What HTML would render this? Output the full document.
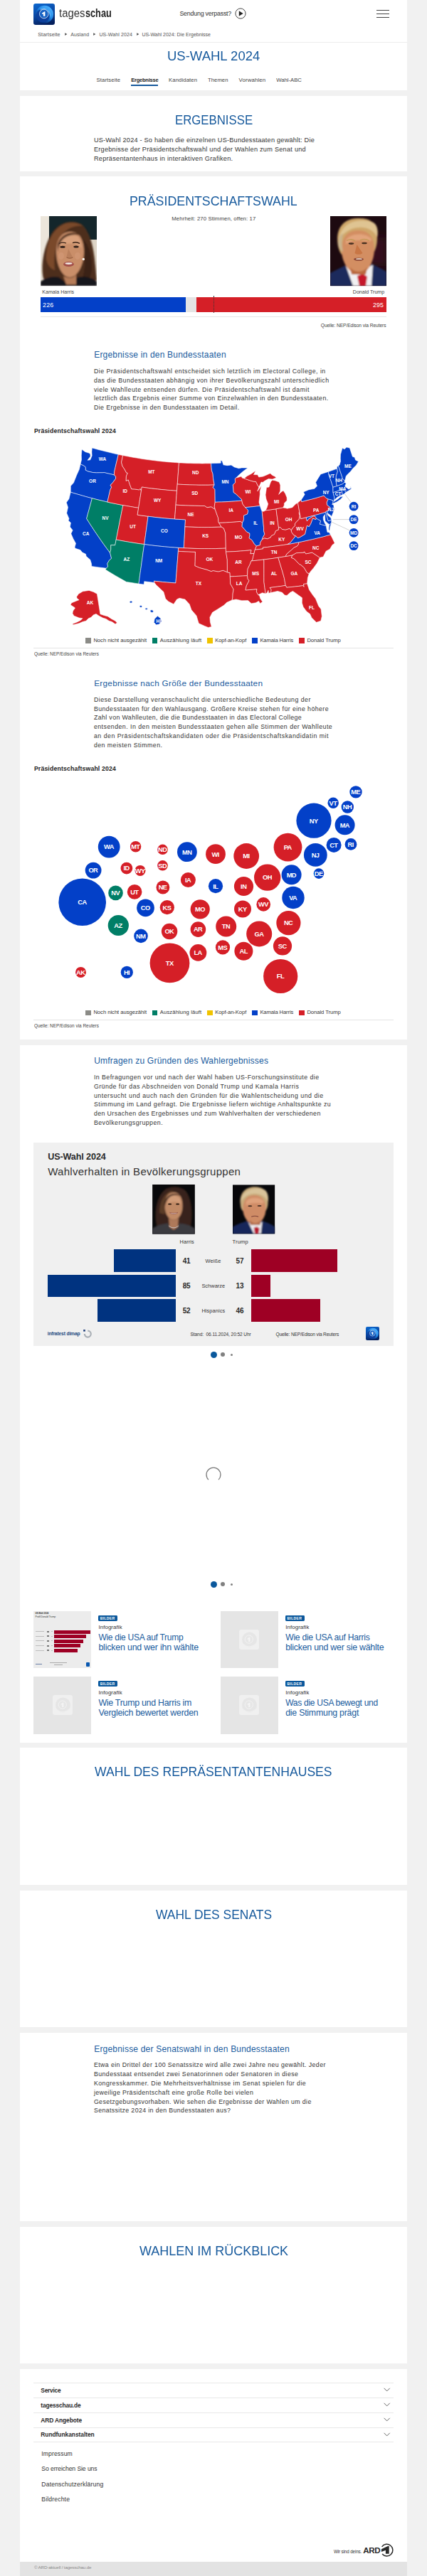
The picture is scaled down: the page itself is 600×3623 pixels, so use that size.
<!DOCTYPE html><html lang="de"><head><meta charset="utf-8"><title>US-Wahl 2024: Die Ergebnisse</title><style>
html,body{margin:0;padding:0}body{width:600px;height:3623px;position:relative;background:#f1f1f1;font-family:"Liberation Sans",sans-serif;overflow:hidden}
.b{position:absolute;background:#fff;left:28px;width:544px}
.t{position:absolute;white-space:pre;line-height:1;margin:0;padding:0}
.a{position:absolute}
svg{position:absolute;left:0;overflow:visible}

</style></head><body>
<div class="b" style="top:0px;height:127px"></div>
<div class="b" style="top:135px;height:106px"></div>
<div class="b" style="top:248px;height:1214px"></div>
<div class="b" style="top:1470px;height:981px"></div>
<div class="b" style="top:2458px;height:193px"></div>
<div class="b" style="top:2659px;height:192px"></div>
<div class="b" style="top:2859px;height:265px"></div>
<div class="b" style="top:3132px;height:192px"></div>
<div class="b" style="top:3332px;height:271px"></div>
<div class="a" style="left:28px;top:3603px;width:544px;height:20px;background:#e3e3e3"></div>
<svg style="top:4.8px;left:47.3px" width="30" height="30" viewBox="0 0 30 30"><defs><linearGradient id="lga" x1="0.2" y1="0" x2="0.5" y2="1"><stop offset="0" stop-color="#0c66cc"/><stop offset="0.5" stop-color="#0a48a4"/><stop offset="1" stop-color="#041f5c"/></linearGradient><linearGradient id="gga" x1="0.85" y1="0.1" x2="0.2" y2="0.9"><stop offset="0" stop-color="#4db4ff"/><stop offset="0.45" stop-color="#1f86e6"/><stop offset="1" stop-color="#0a3f98" stop-opacity="0.2"/></linearGradient><filter id="iba"><feGaussianBlur stdDeviation="0.5"/></filter></defs><rect width="30" height="30" rx="3.2" fill="url(#lga)"/><g filter="url(#iba)"><circle cx="15.6" cy="15.2" r="12.4" fill="url(#gga)"/><circle cx="13.2" cy="17" r="9.6" fill="#0a3f9c" opacity="0.9"/><path d="M9 8 C12 5 17 5.5 19 7.5 C16 7.5 13 9 11 11Z M20 9 C24 11 25.5 16 24 20 C23.5 16 22.5 13 20 11Z" fill="#7cc8ff" opacity="0.55"/></g><circle cx="14.75" cy="14.5" r="6.3" fill="#1662c4" stroke="#fff" stroke-width="0.7"/><path d="M12 13.4 L15.4 11.3 L16.4 11.3 L16.4 17.8 L13.9 17.8 L13.9 14.3 L12 15Z" fill="#fff"/></svg>
<svg style="top:11.3px;left:330.4px" width="16" height="16" viewBox="0 0 16 16"><circle cx="8" cy="8" r="7.1" fill="none" stroke="#333" stroke-width="0.9"/><path d="M5.8 4.2 L11.6 8 L5.8 11.8Z" fill="#222"/></svg>
<div class="a" style="left:529px;top:13.5px;width:17.6px;height:1.4px;background:#444"></div><div class="a" style="left:529px;top:18.7px;width:17.6px;height:1.4px;background:#444"></div><div class="a" style="left:529px;top:24px;width:17.6px;height:1.4px;background:#444"></div>
<svg style="top:46.3px;left:90.6px" width="3.6" height="4.2" viewBox="0 0 3.6 4.2"><path d="M0.2 0.2 L3.4 2.1 L0.2 4Z" fill="#555"/></svg>
<svg style="top:46.3px;left:130.7px" width="3.6" height="4.2" viewBox="0 0 3.6 4.2"><path d="M0.2 0.2 L3.4 2.1 L0.2 4Z" fill="#555"/></svg>
<svg style="top:46.3px;left:191.8px" width="3.6" height="4.2" viewBox="0 0 3.6 4.2"><path d="M0.2 0.2 L3.4 2.1 L0.2 4Z" fill="#555"/></svg>
<div class="a" style="left:28px;top:58.9px;width:544px;height:1px;background:#ececec"></div>
<div class="a" style="left:184.2px;top:119px;width:38.2px;height:1.5px;background:#16599c"></div>
<svg style="top:304px;left:57px" width="79" height="98.3" viewBox="0 0 79 98.3"><defs><filter id="bl1" x="-20%" y="-20%" width="140%" height="140%"><feGaussianBlur stdDeviation="1.1"/></filter><filter id="bl0" x="-20%" y="-20%" width="140%" height="140%"><feGaussianBlur stdDeviation="0.5"/></filter><filter id="bl2" x="-50%" y="-50%" width="200%" height="200%"><feGaussianBlur stdDeviation="6"/></filter><clipPath id="cp1"><rect width="79" height="98.3"/></clipPath></defs><g clip-path="url(#cp1)"><rect width="79" height="98.3" fill="#e7e0d4"/><rect x="12" y="0" width="67" height="33" fill="#14262b"/><rect x="0" y="0" width="11.5" height="98.3" fill="#ece6db"/><rect x="68" y="33" width="11" height="45" fill="#ddd4c6"/>
<g filter="url(#bl1)"><path d="M4 88 C0 70 4 42 17 22 C27 8 44 4 57 11 C69 20 75 44 77 70 L79 90 L60 96 L20 96Z" fill="#4d2e1d"/><path d="M8 60 C8 36 18 16 36 10 C46 8 54 10 60 14 C48 12 34 18 26 32 C20 44 18 60 20 76 C14 74 9 68 8 60Z" fill="#7a4a2c"/><path d="M56 30 C66 36 72 52 72 70 C72 80 70 86 66 90 L58 90 C64 74 64 50 56 30Z" fill="#3a2115"/><path d="M0 98.3 L0 92 C8 86 18 84 26 86 L38 96 L52 86 C62 84 72 86 79 92 L79 98.3Z" fill="#14141a"/><path d="M22 50 C22 32 30 22 42 22 C54 22 61 32 61 50 C61 68 52 86 41 86 C30 86 22 68 22 50Z" fill="#c98e69"/><path d="M28 34 C32 26 44 24 52 28 C56 32 58 40 58 46 C52 38 40 36 28 42Z" fill="#d9a17c"/><path d="M32 84 L36 96 L50 96 L50 82 C46 88 38 88 32 84Z" fill="#b67c58"/><path d="M24 40 C28 26 44 18 58 28 C50 24 36 26 30 34 C27 38 25 44 24 50Z" fill="#4d2e1d"/></g>
<g filter="url(#bl0)"><path d="M26 38.5 C29 36.8 33 36.8 36 38" stroke="#3a2216" stroke-width="1.3" fill="none"/><path d="M45 37.6 C48 36.4 52 36.6 55 38.4" stroke="#3a2216" stroke-width="1.3" fill="none"/><ellipse cx="31" cy="43.2" rx="3.6" ry="1.5" fill="#33201a"/><ellipse cx="50" cy="43" rx="3.6" ry="1.5" fill="#33201a"/><path d="M39 46 L36.5 57.5 C39 59.5 43 59.5 45 57.5Z" fill="#b97f5b"/><path d="M36.5 58 C39 59.6 43 59.6 45.4 58" stroke="#8d5538" stroke-width="1" fill="none"/><ellipse cx="39.5" cy="67.5" rx="7.4" ry="3.6" fill="#a4514c"/><ellipse cx="39.5" cy="66.6" rx="5" ry="1.3" fill="#f3e9e4"/><circle cx="60.3" cy="60.5" r="1.7" fill="#f6f2ec"/><ellipse cx="29" cy="56" rx="4" ry="5" fill="#d49a78" opacity="0.6"/><ellipse cx="52" cy="56" rx="4" ry="5" fill="#d49a78" opacity="0.6"/></g></g></svg>
<svg style="top:304px;left:463.8px" width="79" height="98.3" viewBox="0 0 79 98.3"><g clip-path="url(#cp1)"><rect width="79" height="98.3" fill="#1d0a10"/><rect x="50" y="30" width="29" height="40" fill="#35101a" filter="url(#bl2)"/>
<g filter="url(#bl1)"><path d="M0 98.3 L0 80 C8 76 16 72 24 68 L56 66 C64 70 72 74 79 78 L79 98.3Z" fill="#1d2c5c"/><path d="M22 70 L32 98.3 L58 98.3 L60 68 C54 74 30 76 22 70Z" fill="#f1f0f2"/><path d="M38 84 L46 81 L52 85 L50 98.3 L41 98.3Z" fill="#c5132b"/><path d="M11 42 C7 20 16 4 38 3 C56 2 68 10 66 30 C66 40 64 46 62 50 L16 54 C13 50 12 46 11 42Z" fill="#cfa76a"/><path d="M16 48 C16 30 24 20 40 20 C54 20 62 30 62 46 C62 64 52 82 40 82 C28 82 16 66 16 48Z" fill="#d38e62"/><path d="M22 34 C26 24 50 22 58 32 C58 38 54 34 40 34 C32 34 26 36 22 40Z" fill="#e2a47c"/><path d="M12 34 C14 12 34 2 58 8 C66 10 68 20 66 30 C62 18 46 12 30 18 C20 22 14 30 12 34Z" fill="#dfc492"/><path d="M11 40 C11 32 14 26 18 24 C16 32 16 42 18 50 C14 48 12 44 11 40Z" fill="#c9b48e"/><path d="M28 72 C34 80 46 80 52 72 L50 82 L30 82Z" fill="#b9683c"/></g>
<g filter="url(#bl0)"><path d="M23 34.5 C27 32.5 32 32.8 35 34.8" stroke="#c79a5a" stroke-width="1.6" fill="none"/><path d="M42 34 C46 32 51 32.2 55 34.6" stroke="#c79a5a" stroke-width="1.6" fill="none"/><ellipse cx="29.5" cy="38.6" rx="3.8" ry="1.3" fill="#4a3024"/><ellipse cx="48" cy="38" rx="3.8" ry="1.3" fill="#4a3024"/><path d="M37.5 40 L34.5 52 C37 54.5 43 54.5 45.5 52Z" fill="#c87644"/><ellipse cx="40" cy="60.6" rx="7" ry="2.2" fill="#8a4636"/><ellipse cx="40.5" cy="60.2" rx="4.4" ry="0.9" fill="#ead8cc"/></g></g></svg>
<div class="a" style="left:57.2px;top:418.4px;width:203.8px;height:21px;background:#0340c8"></div>
<div class="a" style="left:261px;top:418.4px;width:15.1px;height:21px;background:#e4e4e4"></div>
<div class="a" style="left:276.1px;top:418.4px;width:266.9px;height:21px;background:#d51f27"></div>
<div class="a" style="left:299.6px;top:416px;width:0;height:24px;border-left:1px dotted #333"></div>
<div class="a" style="left:57px;top:444.5px;width:486px;height:1px;background:#e6e6e6"></div>
<svg style="top:600px" width="600" height="300" viewBox="0 600 600 300"><g stroke="#fff" stroke-width="0.55" stroke-linejoin="round"><path d="M113.0,652.8L114.5,646.8L114.3,640.6L115.0,631.9L119.5,635.4L124.7,637.1L126.8,638.3L127.1,641.9L123.0,647.3L126.8,646.8L129.2,641.0L128.9,635.8L129.3,629.9L133.4,631.1L137.5,632.2L141.6,633.3L145.7,634.3L149.8,635.3L153.9,636.3L158.0,637.3L162.1,638.3L166.3,639.2L164.9,645.3L163.4,651.4L162.0,657.5L160.6,663.7L160.5,667.9L155.8,666.8L151.1,665.8L146.5,664.6L144.1,664.8L139.8,664.8L135.4,664.9L130.3,664.5L123.5,662.9L120.0,661.1L120.3,658.7L119.9,656.5L117.1,654.7L113.0,652.8Z" fill="#0340c8"/><path d="M113.0,652.8L111.4,660.1L107.7,668.2L105.6,673.6L103.4,679.1L99.3,683.6L99.2,692.2L103.5,693.5L107.8,694.8L112.1,696.0L116.4,697.3L120.7,698.5L125.1,699.7L129.4,700.8L134.8,702.2L140.1,703.5L145.5,704.8L150.9,706.1L152.9,697.4L154.9,688.8L156.7,685.2L155.2,682.3L158.6,678.5L162.5,673.3L162.6,670.3L160.5,667.9L155.8,666.8L151.1,665.8L146.5,664.6L144.1,664.8L139.8,664.8L135.4,664.9L130.3,664.5L123.5,662.9L120.0,661.1L120.3,658.7L119.9,656.5L117.1,654.7L113.0,652.8Z" fill="#0340c8"/><path d="M99.2,692.2L103.5,693.5L107.8,694.8L112.1,696.0L116.4,697.3L120.7,698.5L125.1,699.7L129.4,700.8L127.9,706.5L126.3,712.2L124.8,717.9L123.2,723.6L121.7,729.3L125.5,735.4L129.4,741.4L133.4,747.5L137.5,753.5L141.6,759.5L145.8,765.5L150.2,771.5L154.6,777.4L156.6,785.3L153.4,788.2L150.8,792.7L151.6,796.9L149.2,799.2L144.1,798.5L139.0,797.9L133.9,797.2L128.8,796.5L128.5,792.7L126.8,787.3L121.1,782.3L120.5,779.3L115.5,776.8L112.9,773.6L105.8,771.2L105.0,769.4L106.5,764.3L102.8,757.6L99.8,750.6L102.1,745.7L98.4,741.1L99.4,735.2L96.1,732.2L97.0,729.4L93.7,721.7L95.5,713.6L93.3,706.7L96.9,701.7L99.2,692.2Z" fill="#0340c8"/><path d="M129.4,700.8L134.8,702.2L140.1,703.5L145.5,704.8L150.9,706.1L156.4,707.3L161.8,708.4L167.3,709.5L172.8,710.6L171.6,716.6L170.4,722.7L169.2,728.8L168.0,734.8L166.8,740.9L165.6,746.9L164.4,753.0L163.2,759.0L161.7,766.8L155.8,766.6L155.8,772.6L154.6,777.4L150.2,771.5L145.8,765.5L141.6,759.5L137.5,753.5L133.4,747.5L129.4,741.4L125.5,735.4L121.7,729.3L123.2,723.6L124.8,717.9L126.3,712.2L127.9,706.5L129.4,700.8Z" fill="#007e66"/><path d="M166.3,639.2L172.6,640.5L170.6,650.2L171.9,655.3L175.6,661.0L177.6,664.9L179.3,665.2L177.4,669.8L177.2,676.3L180.3,674.9L182.3,681.2L184.8,687.7L189.8,688.0L195.4,688.9L197.1,687.4L198.5,690.1L197.6,696.1L196.6,702.2L195.6,708.3L194.7,714.3L189.2,713.5L183.7,712.5L178.2,711.6L172.8,710.6L167.3,709.5L161.8,708.4L156.4,707.3L150.9,706.1L152.9,697.4L154.9,688.8L156.7,685.2L155.2,682.3L158.6,678.5L162.5,673.3L162.6,670.3L160.5,667.9L160.6,663.7L162.0,657.5L163.4,651.4L164.9,645.3L166.3,639.2Z" fill="#d51f27"/><path d="M172.8,710.6L178.2,711.6L183.7,712.5L189.2,713.5L194.7,714.3L193.1,724.1L198.1,724.9L203.1,725.6L208.0,726.2L207.2,732.8L206.3,739.4L205.4,745.9L204.5,752.5L203.6,759.0L202.7,765.6L197.7,764.9L192.8,764.2L187.8,763.4L182.9,762.6L178.0,761.8L173.0,760.9L168.1,760.0L163.2,759.0L164.4,753.0L165.6,746.9L166.8,740.9L168.0,734.8L169.2,728.8L170.4,722.7L171.6,716.6L172.8,710.6Z" fill="#d51f27"/><path d="M163.2,759.0L168.1,760.0L173.0,760.9L178.0,761.8L182.9,762.6L187.8,763.4L192.8,764.2L197.7,764.9L202.7,765.6L201.8,771.8L200.9,778.0L200.1,784.1L199.2,790.3L198.4,796.5L197.5,802.6L196.6,808.8L195.8,814.9L194.9,821.1L189.1,820.2L183.4,819.3L177.6,818.4L172.6,815.6L167.6,812.7L162.7,809.9L157.8,807.0L152.9,804.1L148.1,801.1L149.2,799.2L151.6,796.9L150.8,792.7L153.4,788.2L156.6,785.3L154.6,777.4L155.8,772.6L155.8,766.6L161.7,766.8L163.2,759.0Z" fill="#007e66"/><path d="M172.6,640.5L176.6,641.3L180.5,642.0L184.4,642.8L188.3,643.5L192.2,644.1L196.2,644.8L200.1,645.4L204.0,646.0L208.0,646.6L211.9,647.1L215.9,647.6L219.8,648.1L223.8,648.5L227.7,648.9L231.7,649.3L235.6,649.7L239.6,650.0L243.6,650.3L247.5,650.6L251.5,650.9L251.0,656.9L250.6,662.9L250.1,668.9L249.7,674.9L249.2,681.0L248.5,690.3L244.0,690.0L239.6,689.6L235.1,689.3L230.6,688.8L226.1,688.4L221.6,687.9L217.2,687.4L212.7,686.9L208.2,686.3L203.8,685.7L199.3,685.0L198.5,690.1L197.1,687.4L195.4,688.9L189.8,688.0L184.8,687.7L182.3,681.2L180.3,674.9L177.2,676.3L177.4,669.8L179.3,665.2L177.6,664.9L175.6,661.0L171.9,655.3L170.6,650.2L172.6,640.5Z" fill="#d51f27"/><path d="M198.5,690.1L199.3,685.0L203.8,685.7L208.2,686.3L212.7,686.9L217.2,687.4L221.6,687.9L226.1,688.4L230.6,688.8L235.1,689.3L239.6,689.6L244.0,690.0L248.5,690.3L248.0,696.9L247.5,703.5L247.0,710.1L246.5,716.7L246.0,723.4L245.5,730.0L240.8,729.7L236.1,729.3L231.4,728.9L226.8,728.4L222.1,727.9L217.4,727.4L212.7,726.8L208.0,726.2L203.1,725.6L198.1,724.9L193.1,724.1L194.7,714.3L195.6,708.3L196.6,702.2L197.6,696.1L198.5,690.1Z" fill="#d51f27"/><path d="M208.0,726.2L212.7,726.8L217.4,727.4L222.1,727.9L226.8,728.4L231.4,728.9L236.1,729.3L240.8,729.7L245.5,730.0L250.5,730.3L255.5,730.6L260.5,730.9L259.9,740.9L259.6,746.8L259.3,752.8L259.0,758.8L258.6,764.8L258.3,770.8L250.7,770.4L245.9,770.1L241.1,769.7L236.3,769.3L231.5,768.9L226.7,768.4L221.9,767.9L217.1,767.4L212.3,766.8L207.5,766.2L202.7,765.6L203.6,759.0L204.5,752.5L205.4,745.9L206.3,739.4L207.2,732.8L208.0,726.2Z" fill="#0340c8"/><path d="M202.7,765.6L207.5,766.2L212.3,766.8L217.1,767.4L221.9,767.9L226.7,768.4L231.5,768.9L236.3,769.3L241.1,769.7L245.9,770.1L250.7,770.4L250.4,775.3L249.9,781.7L249.4,788.1L248.9,794.5L248.4,800.9L247.9,807.3L247.4,813.6L246.9,820.0L240.8,819.5L234.7,819.0L228.6,818.5L222.5,817.8L216.4,817.2L217.0,819.4L209.9,818.6L202.8,817.7L202.2,822.1L194.9,821.1L195.8,814.9L196.6,808.8L197.5,802.6L198.4,796.5L199.2,790.3L200.1,784.1L200.9,778.0L201.8,771.8L202.7,765.6Z" fill="#0340c8"/><path d="M251.5,650.9L255.6,651.1L259.7,651.3L263.8,651.5L267.9,651.6L272.0,651.7L276.0,651.8L280.1,651.8L284.2,651.9L288.3,651.8L292.4,651.8L296.5,651.7L297.4,661.6L299.1,666.5L299.5,672.4L301.2,682.0L296.9,682.1L292.6,682.2L288.2,682.2L283.9,682.2L279.6,682.2L275.2,682.1L270.9,682.0L266.6,681.9L262.2,681.7L257.9,681.5L253.6,681.3L249.2,681.0L249.7,674.9L250.1,668.9L250.6,662.9L251.0,656.9L251.5,650.9Z" fill="#d51f27"/><path d="M249.2,681.0L253.6,681.3L257.9,681.5L262.2,681.7L266.6,681.9L270.9,682.0L275.2,682.1L279.6,682.2L283.9,682.2L288.2,682.2L292.6,682.2L296.9,682.1L301.2,682.0L299.2,685.4L302.0,688.3L302.1,697.3L302.2,706.3L301.2,712.3L302.3,716.4L296.8,712.9L291.0,713.8L287.4,711.5L282.9,711.5L278.4,711.4L273.9,711.3L269.4,711.2L265.0,711.1L260.5,710.9L256.0,710.7L251.5,710.4L247.0,710.1L247.5,703.5L248.0,696.9L248.5,690.3L249.2,681.0Z" fill="#d51f27"/><path d="M247.0,710.1L251.5,710.4L256.0,710.7L260.5,710.9L265.0,711.1L269.4,711.2L273.9,711.3L278.4,711.4L282.9,711.5L287.4,711.5L291.0,713.8L296.8,712.9L302.3,716.4L305.0,724.3L306.5,728.2L307.0,734.3L307.6,735.4L311.2,741.2L306.5,741.3L301.9,741.4L297.2,741.5L292.6,741.5L287.9,741.6L283.3,741.5L278.6,741.5L273.9,741.4L269.3,741.2L264.6,741.1L259.9,740.9L260.5,730.9L255.5,730.6L250.5,730.3L245.5,730.0L246.0,723.4L246.5,716.7L247.0,710.1Z" fill="#d51f27"/><path d="M259.9,740.9L264.6,741.1L269.3,741.2L273.9,741.4L278.6,741.5L283.3,741.5L287.9,741.6L292.6,741.5L297.2,741.5L301.9,741.4L306.5,741.3L311.2,741.2L314.4,743.1L316.8,749.8L317.0,756.9L317.2,764.0L317.3,771.1L312.4,771.3L307.5,771.4L302.6,771.6L297.7,771.6L292.7,771.6L287.8,771.6L282.9,771.6L278.0,771.5L273.1,771.4L268.1,771.2L263.2,771.0L258.3,770.8L258.6,764.8L259.0,758.8L259.3,752.8L259.6,746.8L259.9,740.9Z" fill="#d51f27"/><path d="M258.3,770.8L263.2,771.0L268.1,771.2L273.1,771.4L278.0,771.5L282.9,771.6L287.8,771.6L292.7,771.6L297.7,771.6L302.6,771.6L307.5,771.4L312.4,771.3L317.3,771.1L317.5,776.1L319.3,787.1L319.4,796.0L319.4,804.8L313.4,802.4L306.8,804.1L299.3,802.7L296.8,803.7L290.2,801.2L285.3,799.9L280.3,798.6L273.8,795.8L274.0,789.4L274.2,782.9L274.4,776.4L269.6,776.3L264.8,776.1L260.0,775.9L255.2,775.6L250.4,775.3L250.7,770.4L258.3,770.8Z" fill="#d51f27"/><path d="M250.4,775.3L255.2,775.6L260.0,775.9L264.8,776.1L269.6,776.3L274.4,776.4L274.2,782.9L274.0,789.4L273.8,795.8L280.3,798.6L285.3,799.9L290.2,801.2L296.8,803.7L299.3,802.7L306.8,804.1L313.4,802.4L319.4,804.8L323.1,805.6L323.3,810.9L323.7,821.1L324.9,823.0L328.2,828.9L327.1,834.9L326.9,840.9L326.1,843.9L318.8,847.2L314.5,851.3L304.8,857.4L298.5,861.3L294.9,868.2L295.4,875.1L297.2,881.4L292.6,882.5L287.5,880.4L279.3,876.8L276.0,865.9L269.0,857.8L266.2,849.8L259.9,842.9L252.1,841.3L248.5,842.9L244.0,849.7L236.7,845.9L232.6,842.1L229.9,832.5L224.7,827.6L219.5,822.8L217.0,819.4L216.4,817.2L222.5,817.8L228.6,818.5L234.7,819.0L240.8,819.5L246.9,820.0L247.4,813.6L247.9,807.3L248.4,800.9L248.9,794.5L249.4,788.1L249.9,781.7L250.4,775.3Z" fill="#d51f27"/><path d="M296.5,651.7L301.1,651.6L305.7,651.4L310.2,651.2L310.1,647.5L312.1,648.2L313.9,653.8L319.3,654.7L324.9,654.1L329.3,656.9L335.5,658.8L339.8,657.9L344.0,658.0L348.2,658.0L341.8,662.7L335.4,668.3L331.6,672.2L330.3,673.3L330.6,678.7L327.3,682.0L327.9,688.0L328.2,692.5L331.5,694.7L335.2,698.4L339.4,702.1L339.8,704.1L335.1,704.5L330.4,704.9L325.7,705.2L321.0,705.5L316.3,705.8L311.6,706.0L306.9,706.1L302.2,706.3L302.1,697.3L302.0,688.3L299.2,685.4L301.2,682.0L299.5,672.4L299.1,666.5L297.4,661.6L296.5,651.7Z" fill="#0340c8"/><path d="M302.2,706.3L306.9,706.1L311.6,706.0L316.3,705.8L321.0,705.5L325.7,705.2L330.4,704.9L335.1,704.5L339.8,704.1L341.0,709.0L344.6,713.7L348.5,717.4L348.4,720.4L347.5,723.1L342.5,725.1L342.5,731.1L340.5,735.4L337.9,733.4L332.9,733.9L327.8,734.3L322.8,734.6L317.7,735.0L312.7,735.2L307.6,735.4L307.0,734.3L306.5,728.2L305.0,724.3L302.3,716.4L301.2,712.3L302.2,706.3Z" fill="#d51f27"/><path d="M307.6,735.4L312.7,735.2L317.7,735.0L322.8,734.6L327.8,734.3L332.9,733.9L337.9,733.4L340.5,735.4L340.1,740.4L343.4,744.2L346.7,748.0L350.8,750.1L351.0,752.6L350.1,756.8L353.9,759.4L357.5,765.2L360.5,767.9L358.2,773.2L357.0,778.4L351.7,778.9L353.0,773.7L348.0,774.2L342.9,774.6L337.8,775.0L332.7,775.4L327.6,775.7L322.6,775.9L317.5,776.1L317.3,771.1L317.2,764.0L317.0,756.9L316.8,749.8L314.4,743.1L311.2,741.2L307.6,735.4Z" fill="#d51f27"/><path d="M317.5,776.1L322.6,775.9L327.6,775.7L332.7,775.4L337.8,775.0L342.9,774.6L348.0,774.2L353.0,773.7L351.7,778.9L357.0,778.4L355.8,782.6L354.8,787.4L353.0,788.9L351.0,794.2L348.1,800.0L347.5,809.6L341.4,810.0L335.4,810.3L329.4,810.6L323.3,810.9L323.1,805.6L319.4,804.8L319.4,796.0L319.3,787.1L317.5,776.1Z" fill="#d51f27"/><path d="M323.3,810.9L329.4,810.6L335.4,810.3L341.4,810.0L347.5,809.6L348.2,814.6L350.1,816.4L346.3,823.8L345.0,829.9L350.3,829.5L355.7,829.0L361.0,828.5L360.3,832.1L362.8,836.6L364.6,837.7L365.9,842.1L368.9,846.3L365.6,848.7L363.5,845.4L359.3,847.8L353.2,848.8L348.5,844.6L339.8,844.7L331.8,843.0L326.1,843.9L326.9,840.9L327.1,834.9L328.2,828.9L324.9,823.0L323.7,821.1L323.3,810.9Z" fill="#d51f27"/><path d="M331.6,672.2L339.0,670.0L340.5,672.3L343.1,672.9L347.8,674.6L352.5,676.2L356.1,677.1L359.6,677.4L362.2,682.8L363.9,685.1L361.7,691.0L364.2,687.6L367.5,683.1L365.2,691.0L365.3,695.1L364.6,701.3L364.0,706.4L365.3,711.5L360.1,712.1L354.9,712.7L349.8,713.2L344.6,713.7L341.0,709.0L339.8,704.1L339.4,702.1L335.2,698.4L331.5,694.7L328.2,692.5L327.9,688.0L327.3,682.0L330.6,678.7L330.3,673.3L331.6,672.2Z" fill="#d51f27"/><path d="M344.6,713.7L349.8,713.2L354.9,712.7L360.1,712.1L365.3,711.5L367.4,717.7L368.2,719.1L369.0,727.0L369.8,734.8L370.6,742.7L370.5,746.3L371.8,751.2L368.9,756.7L368.3,758.8L365.6,763.2L365.5,766.6L360.5,767.9L357.5,765.2L353.9,759.4L350.1,756.8L351.0,752.6L350.8,750.1L346.7,748.0L343.4,744.2L340.1,740.4L340.5,735.4L342.5,731.1L342.5,725.1L347.5,723.1L348.4,720.4L348.5,717.4L344.6,713.7Z" fill="#0340c8"/><path d="M368.2,719.1L370.6,719.3L373.2,717.8L378.1,717.2L383.0,716.5L388.0,715.8L388.8,722.4L389.7,729.0L390.6,735.5L391.5,742.1L391.3,745.2L387.6,746.6L385.5,751.6L381.4,753.5L380.2,755.9L375.7,757.9L371.6,756.9L368.3,758.8L368.9,756.7L371.8,751.2L370.5,746.3L370.6,742.7L369.8,734.8L369.0,727.0L368.2,719.1Z" fill="#d51f27"/><path d="M388.0,715.8L383.0,716.5L378.1,717.2L373.2,717.8L375.1,714.0L376.7,708.7L374.0,702.0L373.0,696.0L374.0,689.7L374.5,685.6L378.0,685.0L379.0,681.8L380.5,677.5L382.7,675.3L386.6,675.9L392.2,677.9L393.9,682.2L393.8,690.4L391.6,695.4L394.8,692.2L398.0,690.1L400.8,694.1L403.1,699.8L403.2,703.9L399.4,707.8L399.4,710.4L397.8,714.0L392.9,714.9L388.0,715.8ZM343.1,672.9L347.1,669.6L353.0,666.4L359.3,661.9L356.5,667.5L362.0,667.7L363.7,671.0L369.8,670.1L376.4,667.2L379.6,665.8L382.8,668.4L386.5,670.3L388.1,672.0L382.7,674.0L377.2,673.5L372.0,676.3L369.4,678.3L367.0,678.1L363.9,685.1L362.2,682.8L359.6,677.4L356.1,677.1L352.5,676.2L347.8,674.6L343.1,672.9Z" fill="#d51f27"/><path d="M388.0,715.8L392.9,714.9L397.8,714.0L401.2,714.6L403.6,715.2L410.8,713.7L415.2,709.1L418.5,707.1L419.7,713.8L420.9,720.4L420.1,721.0L421.3,725.4L420.2,730.3L416.3,734.3L414.4,736.7L414.5,739.5L411.8,741.9L409.3,745.9L407.0,743.4L401.0,745.3L396.2,744.4L393.9,741.7L391.5,742.1L390.6,735.5L389.7,729.0L388.8,722.4L388.0,715.8Z" fill="#d51f27"/><path d="M360.5,767.9L365.5,766.6L365.6,763.2L368.3,758.8L371.6,756.9L375.7,757.9L380.2,755.9L381.4,753.5L385.5,751.6L387.6,746.6L391.3,745.2L391.5,742.1L393.9,741.7L396.2,744.4L401.0,745.3L407.0,743.4L409.3,745.9L409.8,748.6L412.8,752.6L415.6,753.7L410.8,759.7L407.8,763.4L403.9,765.6L398.4,766.5L392.8,767.3L387.3,768.0L381.7,768.7L375.5,769.5L369.3,770.1L369.7,771.9L363.9,772.6L358.2,773.2L360.5,767.9Z" fill="#d51f27"/><path d="M358.2,773.2L363.9,772.6L369.7,771.9L369.3,770.1L375.5,769.5L381.7,768.7L387.3,768.0L392.8,767.3L398.4,766.5L403.9,765.6L409.1,764.7L414.3,763.7L419.5,762.7L419.8,765.1L417.4,768.2L413.3,770.1L409.8,773.3L406.9,775.7L402.9,779.2L401.2,782.6L396.1,783.4L390.9,784.2L385.7,785.0L380.5,785.8L375.2,786.4L370.0,787.1L364.3,787.8L358.7,788.4L353.0,788.9L354.8,787.4L355.8,782.6L357.0,778.4L358.2,773.2Z" fill="#d51f27"/><path d="M353.0,788.9L358.7,788.4L364.3,787.8L370.0,787.1L370.9,788.0L370.9,794.1L370.9,800.2L370.9,806.3L370.9,812.4L370.9,818.4L372.0,826.7L373.1,835.0L368.6,833.8L362.8,836.6L360.3,832.1L361.0,828.5L355.7,829.0L350.3,829.5L345.0,829.9L346.3,823.8L350.1,816.4L348.2,814.6L347.5,809.6L348.1,800.0L351.0,794.2L353.0,788.9Z" fill="#d51f27"/><path d="M370.0,787.1L375.2,786.4L380.5,785.8L385.7,785.0L390.9,784.2L393.0,791.2L395.1,798.1L397.2,805.0L399.5,813.5L401.2,823.4L395.7,824.3L390.2,825.1L384.7,825.8L379.2,826.5L381.2,829.5L380.6,833.6L377.4,834.3L377.0,830.3L375.6,833.5L373.1,835.0L372.0,826.7L370.9,818.4L370.9,812.4L370.9,806.3L370.9,800.2L370.9,794.1L370.9,788.0L370.0,787.1Z" fill="#d51f27"/><path d="M390.9,784.2L396.1,783.4L401.2,782.6L406.1,781.7L411.0,780.8L409.4,784.2L413.4,786.0L420.5,793.4L422.8,794.5L427.2,798.2L431.5,805.6L434.3,806.7L432.4,812.6L431.6,820.8L426.5,821.5L427.2,825.4L425.6,823.7L419.9,824.4L414.2,825.1L408.5,825.7L402.8,826.2L401.2,823.4L399.5,813.5L397.2,805.0L395.1,798.1L393.0,791.2L390.9,784.2Z" fill="#d51f27"/><path d="M380.6,833.6L381.2,829.5L379.2,826.5L384.7,825.8L390.2,825.1L395.7,824.3L401.2,823.4L402.8,826.2L408.5,825.7L414.2,825.1L419.9,824.4L425.6,823.7L427.2,825.4L426.5,821.5L431.6,820.8L434.5,829.6L439.4,836.8L443.5,842.1L447.7,852.4L451.1,856.8L452.3,866.7L450.8,873.2L444.6,875.3L437.9,868.7L435.6,863.6L430.8,859.9L426.2,853.7L424.3,848.0L424.5,840.8L418.9,836.7L411.5,831.4L408.2,833.0L403.1,837.4L400.0,837.1L396.5,833.3L390.1,831.4L380.6,833.6Z" fill="#d51f27"/><path d="M434.3,806.7L431.5,805.6L427.2,798.2L422.8,794.5L420.5,793.4L413.4,786.0L409.4,784.2L411.0,780.8L416.2,777.7L421.7,777.4L427.2,777.0L427.0,776.0L428.3,776.6L429.7,778.9L438.6,777.1L449.4,784.2L445.5,792.1L440.5,798.9L437.0,803.0L434.3,806.7Z" fill="#d51f27"/><path d="M401.2,782.6L402.9,779.2L406.9,775.7L409.8,773.3L413.3,770.1L417.4,768.2L419.8,765.1L419.5,762.7L424.5,761.7L429.5,760.6L434.5,759.5L439.5,758.4L444.5,757.2L449.5,755.9L454.5,754.7L459.4,753.3L464.4,752.0L467.0,757.0L470.3,764.0L466.8,766.6L463.5,772.2L458.0,775.3L454.2,783.1L449.4,784.2L438.6,777.1L429.7,778.9L428.3,776.6L427.0,776.0L427.2,777.0L421.7,777.4L416.2,777.7L411.0,780.8L406.1,781.7L401.2,782.6Z" fill="#d51f27"/><path d="M403.9,765.6L407.8,763.4L410.8,759.7L415.6,753.7L418.4,756.6L421.7,755.4L428.5,751.3L431.3,739.2L434.3,740.6L436.8,736.2L439.4,729.0L443.8,730.5L444.2,728.4L446.3,730.2L450.4,732.2L450.5,733.2L449.4,737.2L452.7,737.9L458.3,739.5L458.9,743.5L460.0,748.5L462.5,748.8L464.4,752.0L459.4,753.3L454.5,754.7L449.5,755.9L444.5,757.2L439.5,758.4L434.5,759.5L429.5,760.6L424.5,761.7L419.5,762.7L414.3,763.7L409.1,764.7L403.9,765.6ZM465.5,736.0L462.7,737.7L461.9,742.7L462.0,746.3L463.3,745.4L463.9,741.0Z" fill="#0340c8"/><path d="M409.3,745.9L411.8,741.9L414.5,739.5L414.4,736.7L416.3,734.3L420.2,730.3L421.3,725.4L420.1,721.0L420.9,720.4L422.6,729.6L430.3,727.8L431.4,732.9L433.7,729.8L438.2,727.1L439.9,725.8L442.6,725.9L444.2,728.4L443.8,730.5L439.4,729.0L436.8,736.2L434.3,740.6L431.3,739.2L428.5,751.3L421.7,755.4L418.4,756.6L415.6,753.7L412.8,752.6L409.8,748.6L409.3,745.9Z" fill="#d51f27"/><path d="M423.3,702.9L418.5,707.1L419.7,713.8L420.9,720.4L422.6,729.6L430.3,727.8L434.9,726.6L439.4,725.5L443.9,724.3L448.4,723.1L452.9,721.8L457.4,720.5L458.5,718.9L460.0,718.7L462.0,717.3L463.8,713.5L459.5,710.1L459.3,706.4L461.3,702.0L458.2,700.4L455.1,697.1L450.7,698.4L446.2,699.7L441.8,701.0L437.3,702.2L432.8,703.3L428.3,704.5L423.8,705.6L423.3,702.9Z" fill="#d51f27"/><path d="M423.3,702.9L428.2,695.6L426.4,691.9L433.5,688.9L437.7,688.1L441.9,687.3L445.5,683.6L443.6,678.4L446.2,674.0L450.6,666.9L455.9,665.2L461.3,663.4L462.3,668.4L465.3,677.0L467.9,685.1L468.0,692.6L469.9,699.9L469.7,703.4L469.1,705.5L474.4,702.2L478.8,698.5L482.2,698.2L478.3,702.4L473.1,706.0L468.2,708.1L467.7,707.5L467.9,703.8L461.3,702.0L458.2,700.4L455.1,697.1L450.7,698.4L446.2,699.7L441.8,701.0L437.3,702.2L432.8,703.3L428.3,704.5L423.8,705.6L423.3,702.9Z" fill="#0340c8"/><path d="M461.3,702.0L467.9,703.8L467.7,707.5L466.6,709.5L468.7,709.9L469.6,716.5L468.3,720.6L465.9,726.4L463.7,724.1L460.4,722.0L459.7,720.6L460.0,718.7L462.0,717.3L463.8,713.5L459.5,710.1L459.3,706.4L461.3,702.0Z" fill="#0340c8"/><path d="M460.0,718.7L459.5,721.2L460.2,724.1L462.7,726.6L464.7,728.1L465.9,731.4L461.1,732.8L459.3,726.6L457.4,720.5L458.5,718.9L460.0,718.7Z" fill="#0340c8"/><path d="M430.3,727.8L434.9,726.6L439.4,725.5L443.9,724.3L448.4,723.1L452.9,721.8L457.4,720.5L459.3,726.6L461.1,732.8L465.9,731.4L465.5,736.0L462.7,737.7L460.2,735.8L457.0,732.5L456.6,727.3L456.5,723.6L454.2,726.9L454.4,731.1L456.3,735.8L457.6,738.1L458.3,739.5L452.7,737.9L449.4,737.2L450.5,733.2L450.4,732.2L446.3,730.2L444.2,728.4L442.6,725.9L439.9,725.8L438.2,727.1L433.7,729.8L431.4,732.9L430.3,727.8Z" fill="#0340c8"/><path d="M468.0,692.6L473.9,690.7L479.9,688.8L481.4,695.8L474.3,699.0L469.7,703.4L469.9,699.9L468.0,692.6Z" fill="#0340c8"/><path d="M479.9,688.8L482.8,687.8L483.8,690.0L485.1,690.9L486.1,692.2L483.8,694.4L481.4,695.8L479.9,688.8Z" fill="#0340c8"/><path d="M467.9,685.1L473.4,683.5L477.5,682.0L481.6,680.5L483.6,678.3L486.4,679.7L484.6,684.1L488.0,686.6L489.6,687.9L493.0,686.6L492.0,684.6L490.8,684.3L492.9,684.8L493.7,687.5L489.2,690.5L486.1,692.2L485.1,690.9L483.8,690.0L482.8,687.8L479.9,688.8L473.9,690.7L468.0,692.6L467.9,685.1Z" fill="#0340c8"/><path d="M461.3,663.4L465.4,662.0L469.5,660.6L473.6,659.1L474.4,663.2L472.4,669.2L472.1,674.7L472.7,680.8L473.4,683.5L467.9,685.1L465.3,677.0L462.3,668.4L461.3,663.4Z" fill="#0340c8"/><path d="M473.6,659.1L473.5,656.5L475.5,655.3L477.6,661.5L479.7,667.7L481.7,673.9L484.5,675.9L484.2,678.1L483.6,678.3L481.6,680.5L477.5,682.0L473.4,683.5L472.7,680.8L472.1,674.7L472.4,669.2L474.4,663.2L473.6,659.1Z" fill="#0340c8"/><path d="M475.5,655.3L477.1,653.7L478.5,648.8L478.3,644.6L478.5,639.2L481.1,630.1L484.0,631.7L487.0,628.9L491.4,630.1L493.4,636.2L495.4,642.2L498.3,643.2L499.5,647.0L503.6,649.1L500.8,654.0L495.7,658.9L493.1,662.6L488.5,667.1L486.3,669.5L485.1,674.3L484.5,675.9L481.7,673.9L479.7,667.7L477.6,661.5L475.5,655.3Z" fill="#0340c8"/><path d="M116.3,831.8L120.9,831.1L125.1,830.4L131.4,832.5L136.4,835.3L138.5,848.6L140.9,863.7L146.2,865.5L151.5,866.9L156.7,870.4L162.0,873.2L164.5,876.0L162.0,877.8L157.4,874.6L153.2,873.2L149.0,870.4L144.4,869.0L139.2,866.2L135.0,863.4L131.4,864.8L127.9,868.3L124.4,869.7L120.9,873.2L116.0,874.6L111.1,876.7L105.8,878.1L102.6,878.8L101.9,877.4L107.6,875.3L113.2,872.5L116.0,869.7L111.1,869.0L107.6,867.6L104.0,866.2L101.9,862.7L102.6,859.2L105.5,855.0L102.6,852.9L99.1,850.7L100.5,847.9L104.0,846.5L107.6,845.1L111.1,843.7L108.3,841.6L107.6,839.5L110.4,835.3Z" fill="#d51f27"/><path d="M182.0,846.2L184.1,845.1L186.2,846.5L184.8,847.9L182.7,847.9Z" fill="#0340c8"/><path d="M196.1,852.1L198.2,851.4L199.9,852.9L198.5,854.3L196.4,853.9Z" fill="#0340c8"/><path d="M203.8,855.7L206.3,855.0L207.7,856.4L205.9,857.4L204.2,857.1Z" fill="#0340c8"/><path d="M210.8,858.5L213.6,857.8L215.7,859.5L214.3,861.6L211.9,860.9Z" fill="#0340c8"/><path d="M217.2,870.4L221.4,866.2L225.6,869.7L227.0,873.9L223.5,878.1L219.3,878.8L216.4,875.3Z" fill="#0340c8"/></g><g stroke="#b5b5b5" stroke-width="0.6" fill="none"><path d="M493.2 706.4 L484.6 695"/><path d="M491 730.6 L468.1 730.6"/><path d="M491.6 746.1 L466.2 734.3"/></g><circle cx="497.1" cy="712.2" r="6.4" fill="#0340c8"/><circle cx="497.1" cy="730.6" r="6.4" fill="#0340c8"/><circle cx="497.1" cy="749.3" r="6.4" fill="#0340c8"/><circle cx="497.1" cy="767.6" r="6.4" fill="#0340c8"/></svg>
<div class="a" style="left:120.4px;top:897.3px;width:7.5px;height:7.4px;background:#8b8b87"></div>
<div class="a" style="left:213.5px;top:897.3px;width:7.5px;height:7.4px;background:#007e66"></div>
<div class="a" style="left:291.1px;top:897.3px;width:7.5px;height:7.4px;background:#f0c300"></div>
<div class="a" style="left:354.3px;top:897.3px;width:7.5px;height:7.4px;background:#0340c8"></div>
<div class="a" style="left:420.2px;top:897.3px;width:7.5px;height:7.4px;background:#d51f27"></div>
<div class="a" style="left:47px;top:910.9px;width:505.5px;height:1px;background:#e4e4e4"></div>
<svg style="top:1090px" width="600" height="320" viewBox="0 1090 600 320"><circle cx="153.2" cy="1191.1" r="15.4" fill="#0340c8"/><circle cx="190.6" cy="1190.7" r="7.7" fill="#d51f27"/><circle cx="131.1" cy="1224.1" r="11.4" fill="#0340c8"/><circle cx="177.9" cy="1221.1" r="8.4" fill="#d51f27"/><circle cx="197" cy="1224.4" r="7.5" fill="#d51f27"/><circle cx="162.5" cy="1255.9" r="10.3" fill="#007e66"/><circle cx="189.1" cy="1254.4" r="10.3" fill="#d51f27"/><circle cx="115.7" cy="1268.7" r="33.3" fill="#0340c8"/><circle cx="204.5" cy="1276.8" r="12.4" fill="#0340c8"/><circle cx="228.5" cy="1194.8" r="7.3" fill="#d51f27"/><circle cx="228.5" cy="1217.3" r="7.3" fill="#d51f27"/><circle cx="262.9" cy="1198.2" r="13.9" fill="#0340c8"/><circle cx="303" cy="1201.2" r="13.9" fill="#d51f27"/><circle cx="346.2" cy="1204" r="17.9" fill="#d51f27"/><circle cx="264.4" cy="1237.6" r="10.5" fill="#d51f27"/><circle cx="303" cy="1246.2" r="10.1" fill="#0340c8"/><circle cx="228.9" cy="1248" r="9.4" fill="#d51f27"/><circle cx="342.5" cy="1246.5" r="13.6" fill="#d51f27"/><circle cx="500" cy="1113.9" r="8.7" fill="#0340c8"/><circle cx="468.2" cy="1129.3" r="7.7" fill="#0340c8"/><circle cx="488.3" cy="1135" r="8.7" fill="#0340c8"/><circle cx="441" cy="1154.2" r="24.6" fill="#0340c8"/><circle cx="484.6" cy="1160.3" r="14" fill="#0340c8"/><circle cx="469.1" cy="1188.4" r="10.5" fill="#0340c8"/><circle cx="493" cy="1187.4" r="8.4" fill="#0340c8"/><circle cx="404.5" cy="1191.6" r="19.9" fill="#d51f27"/><circle cx="443.3" cy="1202.4" r="16.4" fill="#0340c8"/><circle cx="448" cy="1228.6" r="7.3" fill="#0340c8"/><circle cx="409.6" cy="1230.3" r="14" fill="#0340c8"/><circle cx="375.7" cy="1234.1" r="18.7" fill="#d51f27"/><circle cx="412" cy="1262.5" r="15.7" fill="#0340c8"/><circle cx="370.2" cy="1271.9" r="9.8" fill="#d51f27"/><circle cx="341" cy="1278.4" r="12" fill="#d51f27"/><circle cx="405.4" cy="1298.1" r="17.1" fill="#d51f27"/><circle cx="364.2" cy="1313.4" r="18" fill="#d51f27"/><circle cx="397" cy="1330.4" r="13.1" fill="#d51f27"/><circle cx="342.4" cy="1337.7" r="13" fill="#d51f27"/><circle cx="394.2" cy="1373" r="24.1" fill="#d51f27"/><circle cx="234.8" cy="1276.2" r="10.1" fill="#d51f27"/><circle cx="281.2" cy="1278.8" r="13.6" fill="#d51f27"/><circle cx="198" cy="1316.4" r="9.8" fill="#0340c8"/><circle cx="238.1" cy="1310" r="11.2" fill="#d51f27"/><circle cx="278.4" cy="1307.1" r="10.8" fill="#d51f27"/><circle cx="317.7" cy="1302.9" r="14.5" fill="#d51f27"/><circle cx="313" cy="1332.4" r="10.1" fill="#d51f27"/><circle cx="278.4" cy="1339.9" r="11.9" fill="#d51f27"/><circle cx="238.5" cy="1354.4" r="27.9" fill="#d51f27"/><circle cx="178.3" cy="1367.4" r="8.6" fill="#0340c8"/><circle cx="166.3" cy="1301.5" r="14.6" fill="#007e66"/><circle cx="113.5" cy="1367.4" r="7.5" fill="#d51f27"/></svg>
<div class="a" style="left:120.4px;top:1420.6px;width:7.5px;height:7.4px;background:#8b8b87"></div>
<div class="a" style="left:213.5px;top:1420.6px;width:7.5px;height:7.4px;background:#007e66"></div>
<div class="a" style="left:291.1px;top:1420.6px;width:7.5px;height:7.4px;background:#f0c300"></div>
<div class="a" style="left:354.3px;top:1420.6px;width:7.5px;height:7.4px;background:#0340c8"></div>
<div class="a" style="left:420.2px;top:1420.6px;width:7.5px;height:7.4px;background:#d51f27"></div>
<div class="a" style="left:47px;top:1434.2px;width:505.5px;height:1px;background:#e4e4e4"></div>
<div class="a" style="left:47px;top:1606.5px;width:505.6px;height:286.3px;background:#f0f0f0"></div>
<svg style="top:1666.1px;left:214.1px" width="60" height="69.8" viewBox="0 0 60 70"><defs><clipPath id="cp5"><rect width="60" height="70"/></clipPath></defs><g clip-path="url(#cp5)"><rect width="60" height="70" fill="#09090b"/><g filter="url(#bl1)"><path d="M6 58 C2 40 6 16 18 7 C26 2 38 2 46 8 C56 18 57 42 54 60 L44 64 L16 64Z" fill="#38231a"/><path d="M10 40 C10 22 18 10 30 8 C22 14 18 26 18 42Z" fill="#5a3a26"/><path d="M0 70 L0 62 C8 57 16 55 22 55 L30 64 L38 55 C46 55 54 58 60 62 L60 70Z" fill="#3a3a40"/><path d="M17.5 30 C17.5 18 22 11 30 11 C38 11 42.5 18 42.5 30 C42.5 41 37 50 30 50 C23 50 17.5 41 17.5 30Z" fill="#c18a66"/><path d="M22 20 C25 14 35 14 39 20 C40 24 40 27 40 28 C35 23 27 23 21 28Z" fill="#d29c78"/><path d="M23 47 L24 60 L30 64 L36 60 L37 47 C34 51 26 51 23 47Z" fill="#ae795a"/><path d="M17 28 C18 14 32 8 43 18 C36 13 26 14 22 20 C19 24 18 28 17.5 32Z" fill="#38231a"/></g><g filter="url(#bl0)"><ellipse cx="24.6" cy="27.6" rx="2.6" ry="1" fill="#2a1810"/><ellipse cx="35.6" cy="27.6" rx="2.6" ry="1" fill="#2a1810"/><path d="M24.5 39.5 C27 42.5 33 42.5 35.8 39.5 C33 40.6 27 40.6 24.5 39.5Z" fill="#f4ece8" stroke="#8d4a42" stroke-width="0.7"/><path d="M23 58 C27 62 33 62 37 58" stroke="#cfcfd4" stroke-width="0.8" fill="none"/></g></g></svg>
<svg style="top:1666.1px;left:326.7px" width="59.4" height="69.8" viewBox="0 0 60 70"><g clip-path="url(#cp5)"><rect width="60" height="70" fill="#07070a"/><g filter="url(#bl1)"><path d="M0 70 L0 60 C8 55 16 53 22 51 L40 51 C46 53 54 55 60 60 L60 70Z" fill="#18285a"/><path d="M22 53 L30 70 L40 70 L42 52 C38 56 26 57 22 53Z" fill="#ececf0"/><path d="M30 61 L34.5 59.5 L38 62.5 L36.5 70 L31.5 70Z" fill="#b8142a"/><path d="M11 28 C9 12 18 3 31 3 C44 3 52 10 50 26 C50 32 48 36 46 38 L15 38 C12 35 11 32 11 28Z" fill="#c9ac7c"/><path d="M14.5 34 C14.5 22 20 15 31 15 C41 15 47 22 47 34 C47 46 40 56 31 56 C22 56 14.5 46 14.5 34Z" fill="#cf8c66"/><path d="M19 24 C23 17 40 17 44 24 C44 28 42 26 32 26 C26 26 22 27 19 30Z" fill="#dfa27c"/><path d="M11 24 C13 8 30 2 45 7 C50 10 51 17 50 24 C45 13 31 10 21 15 C16 18 13 22 11 24Z" fill="#d9c39a"/><path d="M24 50 C28 56 36 56 40 50 L39 57 L25 57Z" fill="#b06a48"/></g><g filter="url(#bl0)"><ellipse cx="24.6" cy="30.2" rx="3" ry="1" fill="#4a3226"/><ellipse cx="38" cy="30" rx="3" ry="1" fill="#4a3226"/><path d="M26.5 45.5 C29 44.5 34 44.5 36.5 45.5" stroke="#7e4438" stroke-width="1.1" fill="none"/></g></g></svg>
<div class="a" style="left:160.4px;top:1757px;width:86.5px;height:31.9px;background:#003380"></div>
<div class="a" style="left:352.7px;top:1757px;width:121.0px;height:31.9px;background:#9e0024"></div>
<div class="a" style="left:66.7px;top:1792.6px;width:180.2px;height:31.4px;background:#003380"></div>
<div class="a" style="left:352.7px;top:1792.6px;width:27.6px;height:31.4px;background:#9e0024"></div>
<div class="a" style="left:137px;top:1827.3px;width:109.9px;height:31.4px;background:#003380"></div>
<div class="a" style="left:352.7px;top:1827.3px;width:97.6px;height:31.4px;background:#9e0024"></div>
<svg style="top:1870.4px;left:116.9px" width="12" height="12" viewBox="0 0 12 12"><path d="M6.3 1.6 A4.5 4.5 0 1 1 1.8 6.1" fill="none" stroke="#a9afb5" stroke-width="2.1"/><rect x="0.2" y="0" width="2.6" height="2.6" fill="#1f3f7a"/></svg>
<svg style="top:1866.2px;left:513.5px" width="19" height="19" viewBox="0 0 30 30"><defs><linearGradient id="lgb" x1="0.2" y1="0" x2="0.5" y2="1"><stop offset="0" stop-color="#0c66cc"/><stop offset="0.5" stop-color="#0a48a4"/><stop offset="1" stop-color="#041f5c"/></linearGradient><linearGradient id="ggb" x1="0.85" y1="0.1" x2="0.2" y2="0.9"><stop offset="0" stop-color="#4db4ff"/><stop offset="0.45" stop-color="#1f86e6"/><stop offset="1" stop-color="#0a3f98" stop-opacity="0.2"/></linearGradient><filter id="ibb"><feGaussianBlur stdDeviation="0.5"/></filter></defs><rect width="30" height="30" rx="3.2" fill="url(#lgb)"/><g filter="url(#ibb)"><circle cx="15.6" cy="15.2" r="12.4" fill="url(#ggb)"/><circle cx="13.2" cy="17" r="9.6" fill="#0a3f9c" opacity="0.9"/><path d="M9 8 C12 5 17 5.5 19 7.5 C16 7.5 13 9 11 11Z M20 9 C24 11 25.5 16 24 20 C23.5 16 22.5 13 20 11Z" fill="#7cc8ff" opacity="0.55"/></g><circle cx="14.75" cy="14.5" r="6.3" fill="#1662c4" stroke="#fff" stroke-width="0.7"/><path d="M12 13.4 L15.4 11.3 L16.4 11.3 L16.4 17.8 L13.9 17.8 L13.9 14.3 L12 15Z" fill="#fff"/></svg>
<div class="a" style="left:295.5px;top:1900.7px;width:9px;height:9px;border-radius:50%;background:#0a589c"></div><div class="a" style="left:310px;top:1902.2px;width:6px;height:6px;border-radius:50%;background:#808080"></div><div class="a" style="left:324.1px;top:1903.7px;width:3px;height:3px;border-radius:50%;background:#808080"></div>
<div class="a" style="left:295.5px;top:2223.5px;width:9px;height:9px;border-radius:50%;background:#0a589c"></div><div class="a" style="left:310px;top:2225px;width:6px;height:6px;border-radius:50%;background:#808080"></div><div class="a" style="left:324.1px;top:2226.5px;width:3px;height:3px;border-radius:50%;background:#808080"></div>
<svg style="top:2060px;left:286px" width="28" height="28" viewBox="-14 -14 28 28"><path d="M-7.1 7.1 A10 10 0 1 1 7.1 7.1" fill="none" stroke="#7a7a7a" stroke-width="1.3"/></svg>
<div class="a" style="left:47px;top:2265.5px;width:80.8px;height:80.8px;background:#ececec"></div>
<div class="a" style="left:76px;top:2292.5px;width:50.6px;height:5.1px;background:#9e0024"></div>
<div class="a" style="left:76px;top:2299.1px;width:45.0px;height:5.1px;background:#9e0024"></div>
<div class="a" style="left:76px;top:2305.7px;width:41.3px;height:5.1px;background:#9e0024"></div>
<div class="a" style="left:76px;top:2312.3px;width:36.6px;height:5.1px;background:#9e0024"></div>
<div class="a" style="left:76px;top:2319.2px;width:33.3px;height:5.1px;background:#9e0024"></div>
<div class="a" style="left:50px;top:2294.1000000000004px;width:12px;height:1.2px;background:#bdbdbd"></div><div class="a" style="left:66px;top:2293.7000000000003px;width:3.2px;height:2px;background:#777"></div><div class="a" style="left:71.5px;top:2294.1000000000004px;width:2.2px;height:1.2px;background:#bdbdbd"></div>
<div class="a" style="left:50px;top:2300.7000000000003px;width:12px;height:1.2px;background:#bdbdbd"></div><div class="a" style="left:66px;top:2300.3px;width:3.2px;height:2px;background:#777"></div><div class="a" style="left:71.5px;top:2300.7000000000003px;width:2.2px;height:1.2px;background:#bdbdbd"></div>
<div class="a" style="left:50px;top:2307.3px;width:12px;height:1.2px;background:#bdbdbd"></div><div class="a" style="left:66px;top:2306.9px;width:3.2px;height:2px;background:#777"></div><div class="a" style="left:71.5px;top:2307.3px;width:2.2px;height:1.2px;background:#bdbdbd"></div>
<div class="a" style="left:50px;top:2313.9px;width:12px;height:1.2px;background:#bdbdbd"></div><div class="a" style="left:66px;top:2313.5px;width:3.2px;height:2px;background:#777"></div><div class="a" style="left:71.5px;top:2313.9px;width:2.2px;height:1.2px;background:#bdbdbd"></div>
<div class="a" style="left:50px;top:2320.8px;width:12px;height:1.2px;background:#bdbdbd"></div><div class="a" style="left:66px;top:2320.4px;width:3.2px;height:2px;background:#777"></div><div class="a" style="left:71.5px;top:2320.8px;width:2.2px;height:1.2px;background:#bdbdbd"></div>
<div class="a" style="left:50px;top:2339.5px;width:9px;height:1.3px;background:#6a7ea6"></div><div class="a" style="left:70px;top:2338.4px;width:24px;height:1.1px;background:#aaa"></div><div class="a" style="left:76px;top:2341px;width:12px;height:1.1px;background:#aaa"></div>
<div class="a" style="left:120.6px;top:2338px;width:5.8px;height:6px;border-radius:1px;background:#0a58b0"></div>
<div class="a" style="left:138.4px;top:2272.0px;width:26.4px;height:7.7px;background:#0a589c;border-radius:1.4px"></div>
<div class="a" style="left:309.8px;top:2265.6px;width:81.2px;height:80.7px;background:#e5e5e5"></div><svg style="top:2291.9px;left:336.40000000000003px" width="28" height="28" viewBox="0 0 28 28"><rect width="28" height="28" rx="3" fill="#f0f0f0"/><circle cx="14.5" cy="14" r="10.5" fill="#e6e6e6"/><path d="M5 19 A10.5 10.5 0 0 0 24 18 A12 12 0 0 1 5 19Z" fill="#f0f0f0"/><circle cx="13.8" cy="13.6" r="5.6" fill="#e6e6e6" stroke="#f4f4f4" stroke-width="0.9"/><path d="M11.6 12.4 L14.5 10.7 L15.4 10.7 L15.4 16.9 L13.2 16.9 L13.2 13.3 L11.6 13.9Z" fill="#f4f4f4"/></svg>
<div class="a" style="left:401.20000000000005px;top:2272.0px;width:26.4px;height:7.7px;background:#0a589c;border-radius:1.4px"></div>
<div class="a" style="left:47px;top:2357.9px;width:81.2px;height:80.7px;background:#e5e5e5"></div><svg style="top:2384.2000000000003px;left:73.6px" width="28" height="28" viewBox="0 0 28 28"><rect width="28" height="28" rx="3" fill="#f0f0f0"/><circle cx="14.5" cy="14" r="10.5" fill="#e6e6e6"/><path d="M5 19 A10.5 10.5 0 0 0 24 18 A12 12 0 0 1 5 19Z" fill="#f0f0f0"/><circle cx="13.8" cy="13.6" r="5.6" fill="#e6e6e6" stroke="#f4f4f4" stroke-width="0.9"/><path d="M11.6 12.4 L14.5 10.7 L15.4 10.7 L15.4 16.9 L13.2 16.9 L13.2 13.3 L11.6 13.9Z" fill="#f4f4f4"/></svg>
<div class="a" style="left:138.4px;top:2364.3px;width:26.4px;height:7.7px;background:#0a589c;border-radius:1.4px"></div>
<div class="a" style="left:309.8px;top:2357.9px;width:81.2px;height:80.7px;background:#e5e5e5"></div><svg style="top:2384.2000000000003px;left:336.40000000000003px" width="28" height="28" viewBox="0 0 28 28"><rect width="28" height="28" rx="3" fill="#f0f0f0"/><circle cx="14.5" cy="14" r="10.5" fill="#e6e6e6"/><path d="M5 19 A10.5 10.5 0 0 0 24 18 A12 12 0 0 1 5 19Z" fill="#f0f0f0"/><circle cx="13.8" cy="13.6" r="5.6" fill="#e6e6e6" stroke="#f4f4f4" stroke-width="0.9"/><path d="M11.6 12.4 L14.5 10.7 L15.4 10.7 L15.4 16.9 L13.2 16.9 L13.2 13.3 L11.6 13.9Z" fill="#f4f4f4"/></svg>
<div class="a" style="left:401.20000000000005px;top:2364.3px;width:26.4px;height:7.7px;background:#0a589c;border-radius:1.4px"></div>
<div class="a" style="left:47px;top:3350.9px;width:505.5px;height:1px;background:#e8e8e8"></div>
<div class="a" style="left:47px;top:3371.9px;width:505.5px;height:1px;background:#e8e8e8"></div>
<div class="a" style="left:47px;top:3392.9px;width:505.5px;height:1px;background:#e8e8e8"></div>
<div class="a" style="left:47px;top:3413.6px;width:505.5px;height:1px;background:#e8e8e8"></div>
<div class="a" style="left:47px;top:3434.0px;width:505.5px;height:1px;background:#e8e8e8"></div>
<svg style="top:3358.2px;left:539px" width="9.4" height="6" viewBox="0 0 9.4 6"><path d="M0.6 0.8 L4.7 4.9 L8.8 0.8" fill="none" stroke="#555" stroke-width="0.9"/></svg>
<svg style="top:3379.2px;left:539px" width="9.4" height="6" viewBox="0 0 9.4 6"><path d="M0.6 0.8 L4.7 4.9 L8.8 0.8" fill="none" stroke="#555" stroke-width="0.9"/></svg>
<svg style="top:3399.9px;left:539px" width="9.4" height="6" viewBox="0 0 9.4 6"><path d="M0.6 0.8 L4.7 4.9 L8.8 0.8" fill="none" stroke="#555" stroke-width="0.9"/></svg>
<svg style="top:3420.5px;left:539px" width="9.4" height="6" viewBox="0 0 9.4 6"><path d="M0.6 0.8 L4.7 4.9 L8.8 0.8" fill="none" stroke="#555" stroke-width="0.9"/></svg>
<svg style="top:3577px;left:534px" width="19" height="19" viewBox="-9.5 -9.5 19 19"><path d="M-6.4 5.6 A8.4 8.4 0 1 0 -6.9 -4.6" fill="none" stroke="#2a2a2a" stroke-width="1.5"/><path d="M-7.6 -1.2 L1.4 -5.6 L3.2 -5.6 L3.2 5.2 L-1.6 5.2 L-1.6 0.2 L-7.6 2.6Z" fill="#2a2a2a"/></svg>
<span class="t" style="left:83.00px;top:10.00px;font-size:17.4px;color:#333;transform:scaleX(0.8555);transform-origin:0 0;">tages</span>
<span class="t" style="left:119.90px;top:10.00px;font-size:17.4px;color:#222;font-weight:700;transform:scaleX(0.7301);transform-origin:0 0;">schau</span>
<span class="t" style="left:252.40px;top:15.40px;font-size:8.89px;color:#333;letter-spacing:-0.223px;">Sendung verpasst?</span>
<span class="t" style="left:53.20px;top:44.70px;font-size:7.24px;color:#555;letter-spacing:0.091px;">Startseite</span>
<span class="t" style="left:99.30px;top:44.70px;font-size:7.0px;color:#555;letter-spacing:0.086px;">Ausland</span>
<span class="t" style="left:139.40px;top:44.70px;font-size:7.0px;color:#555;letter-spacing:0.103px;">US-Wahl 2024</span>
<span class="t" style="left:199.40px;top:44.70px;font-size:7.0px;color:#555;">US-Wahl 2024: Die Ergebnisse</span>
<span class="t" style="left:234.70px;top:69.30px;font-size:19px;color:#16599c;transform:scaleX(0.9741);transform-origin:0 0;">US-WAHL 2024</span>
<span class="t" style="left:135.50px;top:109.20px;font-size:7.7px;color:#444;letter-spacing:0.122px;">Startseite</span>
<span class="t" style="left:184.20px;top:109.20px;font-size:7.47px;color:#222;font-weight:700;letter-spacing:-0.201px;">Ergebnisse</span>
<span class="t" style="left:237.00px;top:109.20px;font-size:7.7px;color:#444;letter-spacing:0.119px;">Kandidaten</span>
<span class="t" style="left:292.00px;top:109.20px;font-size:7.7px;color:#444;letter-spacing:0.049px;">Themen</span>
<span class="t" style="left:335.50px;top:109.20px;font-size:7.87px;color:#444;letter-spacing:0.122px;">Vorwahlen</span>
<span class="t" style="left:388.30px;top:109.20px;font-size:7.7px;color:#444;">Wahl-ABC</span>
<span class="t" style="left:245.80px;top:158.70px;font-size:19px;color:#16599c;transform:scaleX(0.8831);transform-origin:0 0;">ERGEBNISSE</span>
<span class="t" style="left:131.90px;top:193.00px;font-size:9.2px;color:#333;letter-spacing:0.205px;">US-Wahl 2024 - So haben die einzelnen US-Bundesstaaten gewählt: Die</span>
<span class="t" style="left:131.90px;top:206.05px;font-size:9.2px;color:#333;letter-spacing:0.242px;">Ergebnisse der Präsidentschaftswahl und der Wahlen zum Senat und</span>
<span class="t" style="left:131.90px;top:219.10px;font-size:9.2px;color:#333;letter-spacing:0.253px;">Repräsentantenhaus in interaktiven Grafiken.</span>
<span class="t" style="left:182.20px;top:272.80px;font-size:19px;color:#16599c;transform:scaleX(0.9368);transform-origin:0 0;">PRÄSIDENTSCHAFTSWAHL</span>
<span class="t" style="left:241.30px;top:304.30px;font-size:7.77px;color:#444;letter-spacing:0.106px;">Mehrheit: 270 Stimmen, offen: 17</span>
<span class="t" style="left:59.30px;top:407.60px;font-size:7.1px;color:#444;letter-spacing:-0.019px;">Kamala Harris</span>
<span class="t" style="left:495.80px;top:407.60px;font-size:7.1px;color:#444;letter-spacing:-0.014px;">Donald Trump</span>
<span class="t" style="left:60.10px;top:425.30px;font-size:8.8px;color:#fff;letter-spacing:0.171px;">226</span>
<span class="t" style="left:523.90px;top:425.30px;font-size:8.8px;color:#fff;letter-spacing:0.138px;">295</span>
<span class="t" style="left:450.80px;top:454.90px;font-size:6.7px;color:#444;letter-spacing:-0.107px;">Quelle: NEP/Edison via Reuters</span>
<span class="t" style="left:132.20px;top:493.40px;font-size:12.05px;color:#1a5c9e;letter-spacing:0.175px;">Ergebnisse in den Bundesstaaten</span>
<span class="t" style="left:131.90px;top:517.90px;font-size:8.8px;color:#333;letter-spacing:0.492px;">Die Präsidentschaftswahl entscheidet sich letztlich im Electoral College, in</span>
<span class="t" style="left:131.90px;top:530.70px;font-size:8.8px;color:#333;letter-spacing:0.449px;">das die Bundesstaaten abhängig von ihrer Bevölkerungszahl unterschiedlich</span>
<span class="t" style="left:131.90px;top:543.50px;font-size:8.8px;color:#333;letter-spacing:0.498px;">viele Wahlleute entsenden dürfen. Die Präsidentschaftswahl ist damit</span>
<span class="t" style="left:131.90px;top:556.30px;font-size:8.8px;color:#333;letter-spacing:0.424px;">letztlich das Ergebnis einer Summe von Einzelwahlen in den Bundesstaaten.</span>
<span class="t" style="left:131.90px;top:569.10px;font-size:8.8px;color:#333;letter-spacing:0.398px;">Die Ergebnisse in den Bundesstaaten im Detail.</span>
<span class="t" style="left:47.90px;top:601.70px;font-size:8.7px;color:#222;font-weight:700;letter-spacing:0.161px;">Präsidentschaftswahl 2024</span>
<span class="t" style="left:138.66px;top:643.33px;font-size:6.5px;color:#fff;font-weight:700;">WA</span>
<span class="t" style="left:125.12px;top:673.83px;font-size:6.5px;color:#fff;font-weight:700;">OR</span>
<span class="t" style="left:208.20px;top:660.93px;font-size:6.5px;color:#fff;font-weight:700;">MT</span>
<span class="t" style="left:270.00px;top:661.93px;font-size:6.5px;color:#fff;font-weight:700;">ND</span>
<span class="t" style="left:172.55px;top:687.73px;font-size:6.5px;color:#fff;font-weight:700;">ID</span>
<span class="t" style="left:215.96px;top:701.13px;font-size:6.5px;color:#fff;font-weight:700;">WY</span>
<span class="t" style="left:269.18px;top:691.33px;font-size:6.5px;color:#fff;font-weight:700;">SD</span>
<span class="t" style="left:143.48px;top:725.83px;font-size:6.5px;color:#fff;font-weight:700;">NV</span>
<span class="t" style="left:182.26px;top:737.63px;font-size:6.5px;color:#fff;font-weight:700;">UT</span>
<span class="t" style="left:226.12px;top:744.33px;font-size:6.5px;color:#fff;font-weight:700;">CO</span>
<span class="t" style="left:263.48px;top:720.63px;font-size:6.5px;color:#fff;font-weight:700;">NE</span>
<span class="t" style="left:116.00px;top:747.93px;font-size:6.5px;color:#fff;font-weight:700;">CA</span>
<span class="t" style="left:284.18px;top:751.03px;font-size:6.5px;color:#fff;font-weight:700;">KS</span>
<span class="t" style="left:311.45px;top:674.83px;font-size:6.5px;color:#fff;font-weight:700;">MN</span>
<span class="t" style="left:344.42px;top:688.73px;font-size:6.5px;color:#fff;font-weight:700;">WI</span>
<span class="t" style="left:384.98px;top:702.63px;font-size:6.5px;color:#fff;font-weight:700;">MI</span>
<span class="t" style="left:321.45px;top:714.53px;font-size:6.5px;color:#fff;font-weight:700;">IA</span>
<span class="t" style="left:356.31px;top:732.53px;font-size:6.5px;color:#fff;font-weight:700;">IL</span>
<span class="t" style="left:379.15px;top:732.53px;font-size:6.5px;color:#fff;font-weight:700;">IN</span>
<span class="t" style="left:400.73px;top:727.93px;font-size:6.5px;color:#fff;font-weight:700;">OH</span>
<span class="t" style="left:440.02px;top:714.53px;font-size:6.5px;color:#fff;font-weight:700;">PA</span>
<span class="t" style="left:453.68px;top:690.33px;font-size:6.5px;color:#fff;font-weight:700;">NY</span>
<span class="t" style="left:484.12px;top:652.63px;font-size:6.5px;color:#fff;font-weight:700;">ME</span>
<span class="t" style="left:461.74px;top:666.53px;font-size:6.5px;color:#fff;font-weight:700;">VT</span>
<span class="t" style="left:471.50px;top:673.33px;font-size:6.5px;color:#fff;font-weight:700;">NH</span>
<span class="t" style="left:476.35px;top:684.63px;font-size:6.5px;color:#fff;font-weight:700;">MA</span>
<span class="t" style="left:470.86px;top:692.33px;font-size:6.5px;color:#fff;font-weight:700;">CT</span>
<span class="t" style="left:460.74px;top:713.93px;font-size:6.5px;color:#fff;font-weight:700;">NJ</span>
<span class="t" style="left:416.36px;top:741.33px;font-size:6.5px;color:#fff;font-weight:700;">WV</span>
<span class="t" style="left:441.52px;top:747.43px;font-size:6.5px;color:#fff;font-weight:700;">VA</span>
<span class="t" style="left:329.76px;top:752.63px;font-size:6.5px;color:#fff;font-weight:700;">MO</span>
<span class="t" style="left:391.28px;top:755.63px;font-size:6.5px;color:#fff;font-weight:700;">KY</span>
<span class="t" style="left:173.56px;top:783.93px;font-size:6.5px;color:#fff;font-weight:700;">AZ</span>
<span class="t" style="left:218.15px;top:785.93px;font-size:6.5px;color:#fff;font-weight:700;">NM</span>
<span class="t" style="left:274.74px;top:817.93px;font-size:6.5px;color:#fff;font-weight:700;">TX</span>
<span class="t" style="left:289.43px;top:783.93px;font-size:6.5px;color:#fff;font-weight:700;">OK</span>
<span class="t" style="left:121.70px;top:845.23px;font-size:6.5px;color:#fff;font-weight:700;">AK</span>
<span class="t" style="left:219.45px;top:870.93px;font-size:6.5px;color:#fff;font-weight:700;">HI</span>
<span class="t" style="left:380.66px;top:774.13px;font-size:6.5px;color:#fff;font-weight:700;">TN</span>
<span class="t" style="left:439.00px;top:767.93px;font-size:6.5px;color:#fff;font-weight:700;">NC</span>
<span class="t" style="left:428.38px;top:788.03px;font-size:6.5px;color:#fff;font-weight:700;">SC</span>
<span class="t" style="left:330.30px;top:787.53px;font-size:6.5px;color:#fff;font-weight:700;">AR</span>
<span class="t" style="left:354.32px;top:804.03px;font-size:6.5px;color:#fff;font-weight:700;">MS</span>
<span class="t" style="left:380.66px;top:804.03px;font-size:6.5px;color:#fff;font-weight:700;">AL</span>
<span class="t" style="left:408.43px;top:804.03px;font-size:6.5px;color:#fff;font-weight:700;">GA</span>
<span class="t" style="left:331.66px;top:817.93px;font-size:6.5px;color:#fff;font-weight:700;">LA</span>
<span class="t" style="left:434.02px;top:852.43px;font-size:6.5px;color:#fff;font-weight:700;">FL</span>
<span class="t" style="left:493.85px;top:709.53px;font-size:6.5px;color:#fff;font-weight:700;">RI</span>
<span class="t" style="left:492.58px;top:727.93px;font-size:6.5px;color:#fff;font-weight:700;">DE</span>
<span class="t" style="left:492.05px;top:746.63px;font-size:6.5px;color:#fff;font-weight:700;">MD</span>
<span class="t" style="left:492.40px;top:764.93px;font-size:6.5px;color:#fff;font-weight:700;">DC</span>
<span class="t" style="left:131.40px;top:897.10px;font-size:7.6px;color:#333;letter-spacing:-0.006px;">Noch nicht ausgezählt</span>
<span class="t" style="left:224.80px;top:897.10px;font-size:7.6px;color:#333;letter-spacing:0.146px;">Auszählung läuft</span>
<span class="t" style="left:302.20px;top:897.10px;font-size:7.6px;color:#333;letter-spacing:-0.062px;">Kopf-an-Kopf</span>
<span class="t" style="left:365.40px;top:897.10px;font-size:7.6px;color:#333;letter-spacing:-0.101px;">Kamala Harris</span>
<span class="t" style="left:431.40px;top:897.10px;font-size:7.6px;color:#333;letter-spacing:-0.025px;">Donald Trump</span>
<span class="t" style="left:47.90px;top:916.60px;font-size:6.4px;color:#444;letter-spacing:0.017px;">Quelle: NEP/Edison via Reuters</span>
<span class="t" style="left:132.20px;top:956.20px;font-size:11.8px;color:#1a5c9e;letter-spacing:0.261px;">Ergebnisse nach Größe der Bundesstaaten</span>
<span class="t" style="left:131.90px;top:979.90px;font-size:8.8px;color:#333;letter-spacing:0.464px;">Diese Darstellung veranschaulicht die unterschiedliche Bedeutung der</span>
<span class="t" style="left:131.90px;top:992.65px;font-size:8.8px;color:#333;letter-spacing:0.419px;">Bundesstaaten für den Wahlausgang. Größere Kreise stehen für eine höhere</span>
<span class="t" style="left:131.90px;top:1005.40px;font-size:8.8px;color:#333;letter-spacing:0.381px;">Zahl von Wahlleuten, die die Bundesstaaten in das Electoral College</span>
<span class="t" style="left:131.90px;top:1018.15px;font-size:8.8px;color:#333;letter-spacing:0.471px;">entsenden. In den meisten Bundesstaaten gehen alle Stimmen der Wahlleute</span>
<span class="t" style="left:131.90px;top:1030.90px;font-size:8.8px;color:#333;letter-spacing:0.502px;">an den Präsidentschaftskandidaten oder die Präsidentschaftskandidatin mit</span>
<span class="t" style="left:131.90px;top:1043.65px;font-size:8.8px;color:#333;letter-spacing:0.448px;">den meisten Stimmen.</span>
<span class="t" style="left:47.90px;top:1076.90px;font-size:8.7px;color:#222;font-weight:700;letter-spacing:0.161px;">Präsidentschaftswahl 2024</span>
<span class="t" style="left:145.98px;top:1187.43px;font-size:9.3px;color:#fff;font-weight:700;letter-spacing:-0.550px;">WA</span>
<span class="t" style="left:184.16px;top:1187.03px;font-size:9.3px;color:#fff;font-weight:700;letter-spacing:-0.550px;">MT</span>
<span class="t" style="left:124.40px;top:1220.43px;font-size:9.3px;color:#fff;font-weight:700;letter-spacing:-0.550px;">OR</span>
<span class="t" style="left:173.52px;top:1217.43px;font-size:9.3px;color:#fff;font-weight:700;letter-spacing:-0.550px;">ID</span>
<span class="t" style="left:189.78px;top:1220.73px;font-size:9.3px;color:#fff;font-weight:700;letter-spacing:-0.550px;">WY</span>
<span class="t" style="left:156.31px;top:1252.23px;font-size:9.3px;color:#fff;font-weight:700;letter-spacing:-0.550px;">NV</span>
<span class="t" style="left:183.17px;top:1250.73px;font-size:9.3px;color:#fff;font-weight:700;letter-spacing:-0.550px;">UT</span>
<span class="t" style="left:109.26px;top:1265.03px;font-size:9.3px;color:#fff;font-weight:700;letter-spacing:-0.550px;">CA</span>
<span class="t" style="left:197.80px;top:1273.13px;font-size:9.3px;color:#fff;font-weight:700;letter-spacing:-0.550px;">CO</span>
<span class="t" style="left:222.06px;top:1191.13px;font-size:9.3px;color:#fff;font-weight:700;letter-spacing:-0.550px;">ND</span>
<span class="t" style="left:222.31px;top:1213.63px;font-size:9.3px;color:#fff;font-weight:700;letter-spacing:-0.550px;">SD</span>
<span class="t" style="left:255.94px;top:1194.53px;font-size:9.3px;color:#fff;font-weight:700;letter-spacing:-0.550px;">MN</span>
<span class="t" style="left:297.60px;top:1197.53px;font-size:9.3px;color:#fff;font-weight:700;letter-spacing:-0.550px;">WI</span>
<span class="t" style="left:341.31px;top:1200.33px;font-size:9.3px;color:#fff;font-weight:700;letter-spacing:-0.550px;">MI</span>
<span class="t" style="left:260.02px;top:1233.93px;font-size:9.3px;color:#fff;font-weight:700;letter-spacing:-0.550px;">IA</span>
<span class="t" style="left:299.14px;top:1242.53px;font-size:9.3px;color:#fff;font-weight:700;letter-spacing:-0.550px;">IL</span>
<span class="t" style="left:222.71px;top:1244.33px;font-size:9.3px;color:#fff;font-weight:700;letter-spacing:-0.550px;">NE</span>
<span class="t" style="left:338.12px;top:1242.83px;font-size:9.3px;color:#fff;font-weight:700;letter-spacing:-0.550px;">IN</span>
<span class="t" style="left:493.30px;top:1110.23px;font-size:9.3px;color:#fff;font-weight:700;letter-spacing:-0.550px;">ME</span>
<span class="t" style="left:462.53px;top:1125.63px;font-size:9.3px;color:#fff;font-weight:700;letter-spacing:-0.550px;">VT</span>
<span class="t" style="left:481.86px;top:1131.33px;font-size:9.3px;color:#fff;font-weight:700;letter-spacing:-0.550px;">NH</span>
<span class="t" style="left:434.81px;top:1150.53px;font-size:9.3px;color:#fff;font-weight:700;letter-spacing:-0.550px;">NY</span>
<span class="t" style="left:477.64px;top:1156.63px;font-size:9.3px;color:#fff;font-weight:700;letter-spacing:-0.550px;">MA</span>
<span class="t" style="left:463.17px;top:1184.73px;font-size:9.3px;color:#fff;font-weight:700;letter-spacing:-0.550px;">CT</span>
<span class="t" style="left:488.62px;top:1183.73px;font-size:9.3px;color:#fff;font-weight:700;letter-spacing:-0.550px;">RI</span>
<span class="t" style="left:398.66px;top:1187.93px;font-size:9.3px;color:#fff;font-weight:700;letter-spacing:-0.550px;">PA</span>
<span class="t" style="left:437.63px;top:1198.73px;font-size:9.3px;color:#fff;font-weight:700;letter-spacing:-0.550px;">NJ</span>
<span class="t" style="left:441.81px;top:1224.93px;font-size:9.3px;color:#fff;font-weight:700;letter-spacing:-0.550px;">DE</span>
<span class="t" style="left:402.64px;top:1226.63px;font-size:9.3px;color:#fff;font-weight:700;letter-spacing:-0.550px;">MD</span>
<span class="t" style="left:369.00px;top:1230.43px;font-size:9.3px;color:#fff;font-weight:700;letter-spacing:-0.550px;">OH</span>
<span class="t" style="left:406.16px;top:1258.83px;font-size:9.3px;color:#fff;font-weight:700;letter-spacing:-0.550px;">VA</span>
<span class="t" style="left:362.98px;top:1268.23px;font-size:9.3px;color:#fff;font-weight:700;letter-spacing:-0.550px;">WV</span>
<span class="t" style="left:334.81px;top:1274.73px;font-size:9.3px;color:#fff;font-weight:700;letter-spacing:-0.550px;">KY</span>
<span class="t" style="left:398.96px;top:1294.43px;font-size:9.3px;color:#fff;font-weight:700;letter-spacing:-0.550px;">NC</span>
<span class="t" style="left:357.50px;top:1309.73px;font-size:9.3px;color:#fff;font-weight:700;letter-spacing:-0.550px;">GA</span>
<span class="t" style="left:390.81px;top:1326.73px;font-size:9.3px;color:#fff;font-weight:700;letter-spacing:-0.550px;">SC</span>
<span class="t" style="left:336.47px;top:1334.03px;font-size:9.3px;color:#fff;font-weight:700;letter-spacing:-0.550px;">AL</span>
<span class="t" style="left:388.80px;top:1369.33px;font-size:9.3px;color:#fff;font-weight:700;letter-spacing:-0.550px;">FL</span>
<span class="t" style="left:228.61px;top:1272.53px;font-size:9.3px;color:#fff;font-weight:700;letter-spacing:-0.550px;">KS</span>
<span class="t" style="left:273.98px;top:1275.13px;font-size:9.3px;color:#fff;font-weight:700;letter-spacing:-0.550px;">MO</span>
<span class="t" style="left:191.04px;top:1312.73px;font-size:9.3px;color:#fff;font-weight:700;letter-spacing:-0.550px;">NM</span>
<span class="t" style="left:231.40px;top:1306.33px;font-size:9.3px;color:#fff;font-weight:700;letter-spacing:-0.550px;">OK</span>
<span class="t" style="left:271.96px;top:1303.43px;font-size:9.3px;color:#fff;font-weight:700;letter-spacing:-0.550px;">AR</span>
<span class="t" style="left:311.77px;top:1299.23px;font-size:9.3px;color:#fff;font-weight:700;letter-spacing:-0.550px;">TN</span>
<span class="t" style="left:306.30px;top:1328.73px;font-size:9.3px;color:#fff;font-weight:700;letter-spacing:-0.550px;">MS</span>
<span class="t" style="left:272.47px;top:1336.23px;font-size:9.3px;color:#fff;font-weight:700;letter-spacing:-0.550px;">LA</span>
<span class="t" style="left:232.83px;top:1350.73px;font-size:9.3px;color:#fff;font-weight:700;letter-spacing:-0.550px;">TX</span>
<span class="t" style="left:173.92px;top:1363.73px;font-size:9.3px;color:#fff;font-weight:700;letter-spacing:-0.550px;">HI</span>
<span class="t" style="left:160.37px;top:1297.83px;font-size:9.3px;color:#fff;font-weight:700;letter-spacing:-0.550px;">AZ</span>
<span class="t" style="left:107.06px;top:1363.73px;font-size:9.3px;color:#fff;font-weight:700;letter-spacing:-0.550px;">AK</span>
<span class="t" style="left:131.40px;top:1420.40px;font-size:7.6px;color:#333;letter-spacing:-0.006px;">Noch nicht ausgezählt</span>
<span class="t" style="left:224.80px;top:1420.40px;font-size:7.6px;color:#333;letter-spacing:0.146px;">Auszählung läuft</span>
<span class="t" style="left:302.20px;top:1420.40px;font-size:7.6px;color:#333;letter-spacing:-0.062px;">Kopf-an-Kopf</span>
<span class="t" style="left:365.40px;top:1420.40px;font-size:7.6px;color:#333;letter-spacing:-0.101px;">Kamala Harris</span>
<span class="t" style="left:431.40px;top:1420.40px;font-size:7.6px;color:#333;letter-spacing:-0.025px;">Donald Trump</span>
<span class="t" style="left:47.90px;top:1439.90px;font-size:6.4px;color:#444;letter-spacing:0.017px;">Quelle: NEP/Edison via Reuters</span>
<span class="t" style="left:132.20px;top:1486.40px;font-size:12.09px;color:#1a5c9e;letter-spacing:0.181px;">Umfragen zu Gründen des Wahlergebnisses</span>
<span class="t" style="left:131.90px;top:1511.00px;font-size:8.8px;color:#333;letter-spacing:0.447px;">In Befragungen vor und nach der Wahl haben US-Forschungsinstitute die</span>
<span class="t" style="left:131.90px;top:1523.78px;font-size:8.8px;color:#333;letter-spacing:0.447px;">Gründe für das Abschneiden von Donald Trump und Kamala Harris</span>
<span class="t" style="left:131.90px;top:1536.56px;font-size:8.8px;color:#333;letter-spacing:0.508px;">untersucht und auch nach den Gründen für die Wahlentscheidung und die</span>
<span class="t" style="left:131.90px;top:1549.34px;font-size:8.8px;color:#333;letter-spacing:0.480px;">Stimmung im Land gefragt. Die Ergebnisse liefern wichtige Anhaltspunkte zu</span>
<span class="t" style="left:131.90px;top:1562.12px;font-size:8.8px;color:#333;letter-spacing:0.400px;">den Ursachen des Ergebnisses und zum Wahlverhalten der verschiedenen</span>
<span class="t" style="left:131.90px;top:1574.90px;font-size:8.8px;color:#333;letter-spacing:0.457px;">Bevölkerungsgruppen.</span>
<span class="t" style="left:67.20px;top:1621.40px;font-size:12.6px;color:#2a2a2a;font-weight:700;letter-spacing:-0.111px;">US-Wahl 2024</span>
<span class="t" style="left:67.20px;top:1640.20px;font-size:15px;color:#333;letter-spacing:0.270px;">Wahlverhalten in Bevölkerungsgruppen</span>
<span class="t" style="left:252.60px;top:1742.80px;font-size:7.4px;color:#333;letter-spacing:0.099px;">Harris</span>
<span class="t" style="left:326.60px;top:1742.80px;font-size:7.57px;color:#333;letter-spacing:0.129px;">Trump</span>
<span class="t" style="left:256.70px;top:1768.55px;font-size:10px;color:#2a2a2a;font-weight:700;letter-spacing:-0.162px;">41</span>
<span class="t" style="left:331.60px;top:1768.55px;font-size:10px;color:#2a2a2a;font-weight:700;letter-spacing:-0.163px;">57</span>
<span class="t" style="left:288.50px;top:1769.55px;font-size:7.4px;color:#333;letter-spacing:0.173px;">Weiße</span>
<span class="t" style="left:256.70px;top:1803.90px;font-size:10px;color:#2a2a2a;font-weight:700;letter-spacing:-0.162px;">85</span>
<span class="t" style="left:331.60px;top:1803.90px;font-size:10px;color:#2a2a2a;font-weight:700;letter-spacing:-0.163px;">13</span>
<span class="t" style="left:283.40px;top:1804.90px;font-size:7.4px;color:#333;letter-spacing:0.043px;">Schwarze</span>
<span class="t" style="left:256.70px;top:1838.60px;font-size:10px;color:#2a2a2a;font-weight:700;letter-spacing:-0.162px;">52</span>
<span class="t" style="left:331.60px;top:1838.60px;font-size:10px;color:#2a2a2a;font-weight:700;letter-spacing:-0.163px;">46</span>
<span class="t" style="left:283.40px;top:1839.60px;font-size:7.4px;color:#333;letter-spacing:0.084px;">Hispanics</span>
<span class="t" style="left:66.70px;top:1873.30px;font-size:6.72px;color:#1c4a80;font-weight:700;letter-spacing:-0.161px;">infratest dimap</span>
<span class="t" style="left:267.50px;top:1873.80px;font-size:6.6px;color:#333;letter-spacing:-0.092px;">Stand:  06.11.2024, 20:52 Uhr</span>
<span class="t" style="left:387.50px;top:1873.80px;font-size:6.58px;color:#333;letter-spacing:-0.156px;">Quelle: NEP/Edison via Reuters</span>
<span class="t" style="left:49.50px;top:2268.20px;font-size:2.97px;color:#333;font-weight:700;letter-spacing:-0.080px;">US-Wahl 2024</span>
<span class="t" style="left:49.50px;top:2272.60px;font-size:3.4px;color:#333;letter-spacing:-0.079px;">Profil Donald Trump</span>
<span class="t" style="left:140.80px;top:2274.00px;font-size:5.06px;color:#fff;font-weight:700;letter-spacing:0.297px;">BILDER</span>
<span class="t" style="left:138.40px;top:2285.00px;font-size:7.87px;color:#333;letter-spacing:0.096px;">Infografik</span>
<span class="t" style="left:138.40px;top:2296.80px;font-size:12.06px;color:#1a5c9e;letter-spacing:-0.298px;">Wie die USA auf Trump</span>
<span class="t" style="left:138.40px;top:2310.90px;font-size:12.4px;color:#1a5c9e;letter-spacing:-0.182px;">blicken und wer ihn wählte</span>
<span class="t" style="left:403.60px;top:2274.00px;font-size:5.06px;color:#fff;font-weight:700;letter-spacing:0.297px;">BILDER</span>
<span class="t" style="left:401.20px;top:2285.00px;font-size:7.87px;color:#333;letter-spacing:0.096px;">Infografik</span>
<span class="t" style="left:401.20px;top:2296.80px;font-size:12.2px;color:#1a5c9e;letter-spacing:-0.285px;">Wie die USA auf Harris</span>
<span class="t" style="left:401.20px;top:2310.90px;font-size:12.4px;color:#1a5c9e;letter-spacing:-0.252px;">blicken und wer sie wählte</span>
<span class="t" style="left:140.80px;top:2366.30px;font-size:5.06px;color:#fff;font-weight:700;letter-spacing:0.297px;">BILDER</span>
<span class="t" style="left:138.40px;top:2377.30px;font-size:7.87px;color:#333;letter-spacing:0.096px;">Infografik</span>
<span class="t" style="left:138.40px;top:2389.10px;font-size:12.4px;color:#1a5c9e;letter-spacing:-0.275px;">Wie Trump und Harris im</span>
<span class="t" style="left:138.40px;top:2403.20px;font-size:12.4px;color:#1a5c9e;letter-spacing:-0.237px;">Vergleich bewertet werden</span>
<span class="t" style="left:403.60px;top:2366.30px;font-size:5.06px;color:#fff;font-weight:700;letter-spacing:0.297px;">BILDER</span>
<span class="t" style="left:401.20px;top:2377.30px;font-size:7.87px;color:#333;letter-spacing:0.096px;">Infografik</span>
<span class="t" style="left:401.20px;top:2389.10px;font-size:12.08px;color:#1a5c9e;letter-spacing:-0.311px;">Was die USA bewegt und</span>
<span class="t" style="left:401.20px;top:2403.20px;font-size:12.4px;color:#1a5c9e;letter-spacing:-0.253px;">die Stimmung prägt</span>
<span class="t" style="left:133.10px;top:2482.10px;font-size:19px;color:#16599c;transform:scaleX(0.9257);transform-origin:0 0;">WAHL DES REPRÄSENTANTENHAUSES</span>
<span class="t" style="left:218.70px;top:2683.00px;font-size:19px;color:#16599c;transform:scaleX(0.9172);transform-origin:0 0;">WAHL DES SENATS</span>
<span class="t" style="left:132.20px;top:2875.70px;font-size:12.05px;color:#1a5c9e;letter-spacing:0.175px;">Ergebnisse der Senatswahl in den Bundesstaaten</span>
<span class="t" style="left:131.90px;top:2900.30px;font-size:8.8px;color:#333;letter-spacing:0.402px;">Etwa ein Drittel der 100 Senatssitze wird alle zwei Jahre neu gewählt. Jeder</span>
<span class="t" style="left:131.90px;top:2913.10px;font-size:8.8px;color:#333;letter-spacing:0.426px;">Bundesstaat entsendet zwei Senatorinnen oder Senatoren in diese</span>
<span class="t" style="left:131.90px;top:2925.90px;font-size:8.8px;color:#333;letter-spacing:0.445px;">Kongresskammer. Die Mehrheitsverhältnisse im Senat spielen für die</span>
<span class="t" style="left:131.90px;top:2938.70px;font-size:8.8px;color:#333;letter-spacing:0.394px;">jeweilige Präsidentschaft eine große Rolle bei vielen</span>
<span class="t" style="left:131.90px;top:2951.50px;font-size:8.8px;color:#333;letter-spacing:0.376px;">Gesetzgebungsvorhaben. Wie sehen die Ergebnisse der Wahlen um die</span>
<span class="t" style="left:131.90px;top:2964.30px;font-size:8.8px;color:#333;letter-spacing:0.379px;">Senatssitze 2024 in den Bundesstaaten aus?</span>
<span class="t" style="left:195.70px;top:3156.00px;font-size:19px;color:#16599c;transform:scaleX(0.9462);transform-origin:0 0;">WAHLEN IM RÜCKBLICK</span>
<span class="t" style="left:57.30px;top:3358.40px;font-size:8.33px;color:#2a2a2a;font-weight:700;letter-spacing:-0.209px;">Service</span>
<span class="t" style="left:57.30px;top:3379.10px;font-size:8.4px;color:#2a2a2a;font-weight:700;letter-spacing:-0.153px;">tagesschau.de</span>
<span class="t" style="left:57.30px;top:3399.80px;font-size:8.4px;color:#2a2a2a;font-weight:700;letter-spacing:-0.090px;">ARD Angebote</span>
<span class="t" style="left:57.30px;top:3420.00px;font-size:8.4px;color:#2a2a2a;font-weight:700;letter-spacing:-0.026px;">Rundfunkanstalten</span>
<span class="t" style="left:58.30px;top:3446.70px;font-size:8.6px;color:#333;letter-spacing:0.111px;">Impressum</span>
<span class="t" style="left:58.30px;top:3468.30px;font-size:8.6px;color:#333;letter-spacing:-0.079px;">So erreichen Sie uns</span>
<span class="t" style="left:58.30px;top:3489.80px;font-size:8.6px;color:#333;letter-spacing:0.175px;">Datenschutzerklärung</span>
<span class="t" style="left:58.30px;top:3511.40px;font-size:8.6px;color:#333;letter-spacing:0.158px;">Bildrechte</span>
<span class="t" style="left:468.90px;top:3585.60px;font-size:6.31px;color:#333;letter-spacing:-0.137px;">Wir sind deins.</span>
<span class="t" style="left:510.20px;top:3581.10px;font-size:11.67px;color:#2a2a2a;font-weight:700;letter-spacing:-0.423px;">ARD</span>
<span class="t" style="left:47.90px;top:3607.50px;font-size:6.23px;color:#8a8a8a;letter-spacing:-0.148px;">© ARD-aktuell / tagesschau.de</span>
</body></html>
